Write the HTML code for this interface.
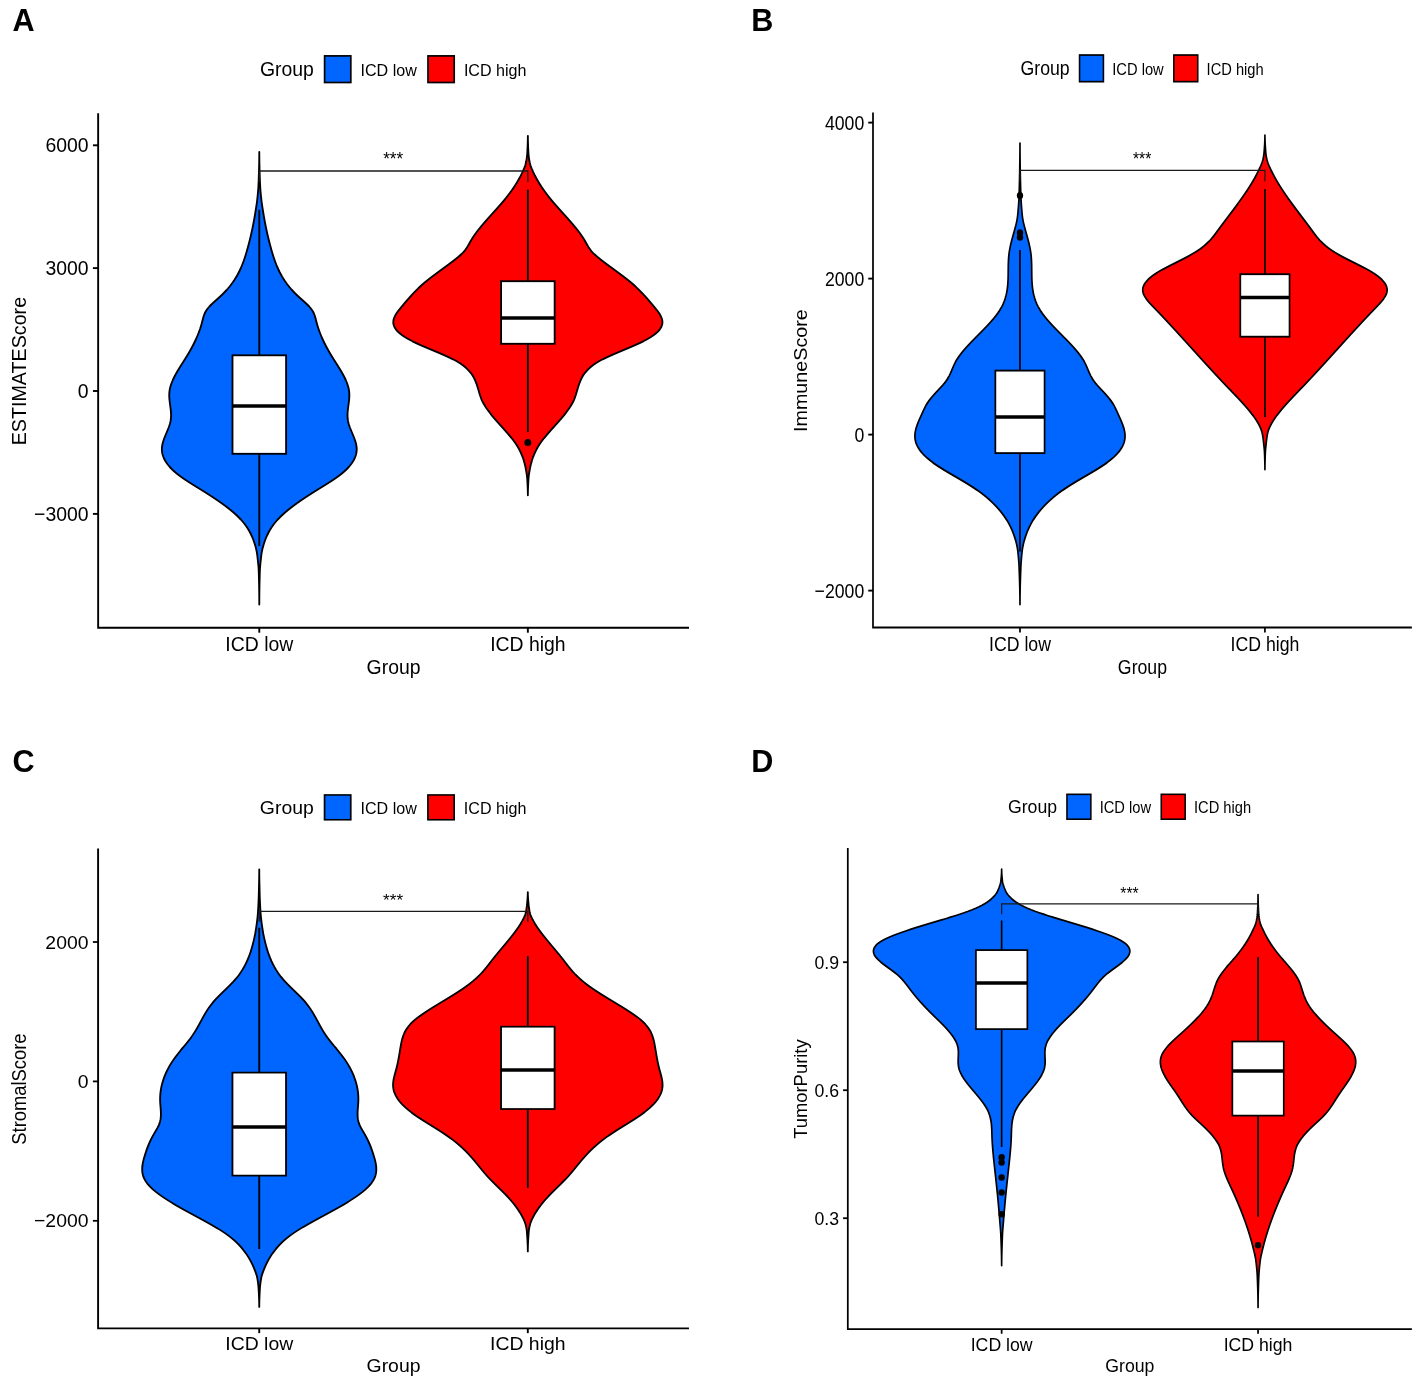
<!DOCTYPE html>
<html lang="en"><head><meta charset="utf-8"><title>ESTIMATE violin plots</title>
<style>html,body{margin:0;padding:0;background:#fff}svg{display:block}text{font-family:"Liberation Sans",Arial,Helvetica,sans-serif;fill:#000}</style></head><body>
<svg width="1417" height="1380" viewBox="0 0 1417 1380">
<rect width="1417" height="1380" fill="#fff"/>
<g transform="translate(0,0) scale(1.0,1.0)">
<text transform="translate(259.9,76) scale(1,1.06)" font-size="19.4">Group</text>
<rect x="324.6" y="55.9" width="26.2" height="26.6" fill="#0066FF" stroke="#000" stroke-width="1.7"/>
<text transform="translate(360.5,76) scale(1,1.06)" font-size="16.1">ICD low</text>
<rect x="428" y="55.9" width="26.2" height="26.6" fill="#FF0000" stroke="#000" stroke-width="1.7"/>
<text transform="translate(463.9,76) scale(1,1.06)" font-size="16.1">ICD high</text>
<path d="M259.29,152 L259.29,153.5 L259.28,155 L259.27,156.5 L259.26,158 L259.24,159.5 L259.21,161 L259.19,162.5 L259.16,164 L259.13,165.5 L259.09,167 L259.05,168.5 L259.01,170 L258.97,171.5 L258.92,173 L258.87,174.5 L258.82,176 L258.77,177.5 L258.71,179 L258.66,180.5 L258.6,182 L258.54,183.5 L258.48,185 L258.4,186.5 L258.31,188 L258.2,189.5 L258.08,191 L257.95,192.5 L257.81,194 L257.66,195.5 L257.51,197 L257.35,198.5 L257.18,200 L257.01,201.5 L256.82,203 L256.6,204.5 L256.38,206 L256.15,207.5 L255.91,209 L255.67,210.5 L255.43,212 L255.19,213.5 L254.94,215 L254.69,216.5 L254.43,218 L254.17,219.5 L253.89,221 L253.61,222.5 L253.32,224 L253.03,225.5 L252.73,227 L252.42,228.5 L252.1,230 L251.77,231.5 L251.44,233 L251.1,234.5 L250.75,236 L250.4,237.5 L250.03,239 L249.66,240.5 L249.28,242 L248.89,243.5 L248.5,245 L248.09,246.5 L247.68,248 L247.26,249.5 L246.84,251 L246.4,252.5 L245.95,254 L245.49,255.5 L245.01,257 L244.52,258.5 L244,260 L243.47,261.5 L242.91,263 L242.33,264.5 L241.72,266 L241.08,267.5 L240.41,269 L239.71,270.5 L238.97,272 L238.19,273.5 L237.38,275 L236.52,276.5 L235.62,278 L234.68,279.5 L233.68,281 L232.64,282.5 L231.55,284 L230.41,285.5 L229.21,287 L227.95,288.5 L226.63,290 L225.25,291.5 L223.81,293 L222.31,294.5 L220.73,296 L219.1,297.5 L217.42,299 L215.73,300.5 L214.06,302 L212.43,303.5 L210.88,305 L209.43,306.5 L208.11,308 L206.95,309.5 L205.97,311 L205.15,312.5 L204.47,314 L203.9,315.5 L203.41,317 L202.99,318.5 L202.6,320 L202.23,321.5 L201.84,323 L201.43,324.5 L200.99,326 L200.52,327.5 L200.03,329 L199.5,330.5 L198.95,332 L198.38,333.5 L197.78,335 L197.15,336.5 L196.5,338 L195.83,339.5 L195.13,341 L194.41,342.5 L193.67,344 L192.9,345.5 L192.11,347 L191.3,348.5 L190.47,350 L189.62,351.5 L188.75,353 L187.86,354.5 L186.95,356 L186.02,357.5 L185.08,359 L184.13,360.5 L183.18,362 L182.22,363.5 L181.27,365 L180.33,366.5 L179.4,368 L178.48,369.5 L177.58,371 L176.71,372.5 L175.87,374 L175.05,375.5 L174.28,377 L173.54,378.5 L172.85,380 L172.21,381.5 L171.61,383 L171.08,384.5 L170.6,386 L170.19,387.5 L169.85,389 L169.59,390.5 L169.4,392 L169.28,393.5 L169.24,395 L169.26,396.5 L169.34,398 L169.45,399.5 L169.61,401 L169.78,402.5 L169.98,404 L170.18,405.5 L170.39,407 L170.58,408.5 L170.75,410 L170.89,411.5 L171,413 L171.06,414.5 L171.06,416 L171,417.5 L170.87,419 L170.65,420.5 L170.35,422 L169.97,423.5 L169.52,425 L169.01,426.5 L168.46,428 L167.87,429.5 L167.26,431 L166.63,432.5 L166,434 L165.38,435.5 L164.77,437 L164.2,438.5 L163.66,440 L163.17,441.5 L162.75,443 L162.4,444.5 L162.13,446 L161.95,447.5 L161.88,449 L161.91,450.5 L162.07,452 L162.33,453.5 L162.71,455 L163.2,456.5 L163.81,458 L164.53,459.5 L165.36,461 L166.3,462.5 L167.36,464 L168.54,465.5 L169.82,467 L171.22,468.5 L172.73,470 L174.36,471.5 L176.1,473 L177.95,474.5 L179.92,476 L181.99,477.5 L184.15,479 L186.39,480.5 L188.69,482 L191.05,483.5 L193.44,485 L195.86,486.5 L198.29,488 L200.72,489.5 L203.13,491 L205.51,492.5 L207.88,494 L210.2,495.5 L212.5,497 L214.76,498.5 L216.98,500 L219.16,501.5 L221.29,503 L223.37,504.5 L225.4,506 L227.38,507.5 L229.29,509 L231.15,510.5 L232.93,512 L234.66,513.5 L236.31,515 L237.88,516.5 L239.38,518 L240.8,519.5 L242.14,521 L243.4,522.5 L244.59,524 L245.7,525.5 L246.75,527 L247.73,528.5 L248.64,530 L249.5,531.5 L250.3,533 L251.05,534.5 L251.75,536 L252.4,537.5 L253,539 L253.57,540.5 L254.09,542 L254.58,543.5 L255.06,545 L255.5,546.5 L255.9,548 L256.26,549.5 L256.58,551 L256.88,552.5 L257.09,554 L257.28,555.5 L257.46,557 L257.63,558.5 L257.79,560 L257.95,561.5 L258.11,563 L258.27,564.5 L258.41,566 L258.54,567.5 L258.64,569 L258.71,570.5 L258.76,572 L258.81,573.5 L258.85,575 L258.89,576.5 L258.93,578 L258.97,579.5 L259.01,581 L259.04,582.5 L259.07,584 L259.1,585.5 L259.13,587 L259.16,588.5 L259.18,590 L259.2,591.5 L259.22,593 L259.24,594.5 L259.25,596 L259.26,597.5 L259.27,599 L259.28,600.5 L259.29,602 L259.29,603.5 L259.29,604.5 L259.29,604.5 L259.29,603.5 L259.29,602 L259.3,600.5 L259.31,599 L259.32,597.5 L259.33,596 L259.34,594.5 L259.36,593 L259.38,591.5 L259.4,590 L259.43,588.5 L259.45,587 L259.48,585.5 L259.51,584 L259.54,582.5 L259.58,581 L259.61,579.5 L259.65,578 L259.69,576.5 L259.73,575 L259.77,573.5 L259.82,572 L259.87,570.5 L259.94,569 L260.05,567.5 L260.17,566 L260.32,564.5 L260.47,563 L260.63,561.5 L260.79,560 L260.95,558.5 L261.12,557 L261.3,555.5 L261.49,554 L261.71,552.5 L262,551 L262.32,549.5 L262.68,548 L263.08,546.5 L263.52,545 L264,543.5 L264.49,542 L265.01,540.5 L265.58,539 L266.18,537.5 L266.83,536 L267.53,534.5 L268.28,533 L269.08,531.5 L269.94,530 L270.85,528.5 L271.84,527 L272.88,525.5 L274,524 L275.18,522.5 L276.44,521 L277.78,519.5 L279.2,518 L280.7,516.5 L282.28,515 L283.93,513.5 L285.65,512 L287.44,510.5 L289.29,509 L291.21,507.5 L293.18,506 L295.21,504.5 L297.29,503 L299.42,501.5 L301.6,500 L303.82,498.5 L306.08,497 L308.38,495.5 L310.71,494 L313.07,492.5 L315.45,491 L317.87,489.5 L320.29,488 L322.72,486.5 L325.14,485 L327.53,483.5 L329.89,482 L332.19,480.5 L334.43,479 L336.59,477.5 L338.66,476 L340.63,474.5 L342.48,473 L344.22,471.5 L345.85,470 L347.36,468.5 L348.76,467 L350.05,465.5 L351.22,464 L352.28,462.5 L353.22,461 L354.05,459.5 L354.77,458 L355.38,456.5 L355.87,455 L356.25,453.5 L356.51,452 L356.67,450.5 L356.71,449 L356.63,447.5 L356.46,446 L356.18,444.5 L355.83,443 L355.41,441.5 L354.92,440 L354.38,438.5 L353.81,437 L353.2,435.5 L352.58,434 L351.95,432.5 L351.32,431 L350.71,429.5 L350.12,428 L349.57,426.5 L349.06,425 L348.61,423.5 L348.23,422 L347.93,420.5 L347.71,419 L347.58,417.5 L347.52,416 L347.52,414.5 L347.58,413 L347.69,411.5 L347.83,410 L348,408.5 L348.2,407 L348.4,405.5 L348.6,404 L348.8,402.5 L348.98,401 L349.13,399.5 L349.25,398 L349.32,396.5 L349.34,395 L349.3,393.5 L349.19,392 L349,390.5 L348.73,389 L348.39,387.5 L347.98,386 L347.5,384.5 L346.97,383 L346.38,381.5 L345.73,380 L345.04,378.5 L344.3,377 L343.53,375.5 L342.71,374 L341.87,372.5 L341,371 L340.1,369.5 L339.18,368 L338.25,366.5 L337.31,365 L336.36,363.5 L335.4,362 L334.45,360.5 L333.5,359 L332.56,357.5 L331.63,356 L330.72,354.5 L329.83,353 L328.96,351.5 L328.11,350 L327.28,348.5 L326.47,347 L325.68,345.5 L324.92,344 L324.17,342.5 L323.45,341 L322.75,339.5 L322.08,338 L321.43,336.5 L320.8,335 L320.2,333.5 L319.63,332 L319.08,330.5 L318.56,329 L318.06,327.5 L317.59,326 L317.15,324.5 L316.74,323 L316.35,321.5 L315.98,320 L315.59,318.5 L315.17,317 L314.69,315.5 L314.11,314 L313.43,312.5 L312.61,311 L311.63,309.5 L310.47,308 L309.16,306.5 L307.71,305 L306.15,303.5 L304.53,302 L302.85,300.5 L301.16,299 L299.49,297.5 L297.85,296 L296.28,294.5 L294.77,293 L293.33,291.5 L291.95,290 L290.63,288.5 L289.38,287 L288.18,285.5 L287.03,284 L285.94,282.5 L284.9,281 L283.91,279.5 L282.96,278 L282.06,276.5 L281.21,275 L280.39,273.5 L279.61,272 L278.88,270.5 L278.17,269 L277.5,267.5 L276.86,266 L276.25,264.5 L275.67,263 L275.11,261.5 L274.58,260 L274.06,258.5 L273.57,257 L273.09,255.5 L272.63,254 L272.18,252.5 L271.75,251 L271.32,249.5 L270.9,248 L270.49,246.5 L270.08,245 L269.69,243.5 L269.3,242 L268.92,240.5 L268.55,239 L268.19,237.5 L267.83,236 L267.48,234.5 L267.14,233 L266.81,231.5 L266.48,230 L266.17,228.5 L265.86,227 L265.55,225.5 L265.26,224 L264.97,222.5 L264.69,221 L264.42,219.5 L264.15,218 L263.89,216.5 L263.64,215 L263.4,213.5 L263.16,212 L262.91,210.5 L262.67,209 L262.43,207.5 L262.2,206 L261.98,204.5 L261.76,203 L261.57,201.5 L261.4,200 L261.24,198.5 L261.08,197 L260.92,195.5 L260.77,194 L260.63,192.5 L260.5,191 L260.38,189.5 L260.27,188 L260.18,186.5 L260.1,185 L260.04,183.5 L259.98,182 L259.93,180.5 L259.87,179 L259.82,177.5 L259.76,176 L259.71,174.5 L259.66,173 L259.62,171.5 L259.57,170 L259.53,168.5 L259.49,167 L259.46,165.5 L259.42,164 L259.39,162.5 L259.37,161 L259.34,159.5 L259.33,158 L259.31,156.5 L259.3,155 L259.29,153.5 L259.29,152Z" fill="#0066FF" stroke="#000" stroke-width="1.85" stroke-linejoin="round"/>
<path d="M259.29,209.8V355.3M259.29,453.8V546" stroke="#000" stroke-width="1.85" fill="none"/>
<rect x="232.49" y="355.3" width="53.6" height="98.5" fill="#fff" stroke="#000" stroke-width="1.85"/>
<path d="M232.49,406.1H286.09" stroke="#000" stroke-width="3.5" fill="none"/>
<path d="M527.86,135.8 L527.85,137.3 L527.84,138.8 L527.81,140.3 L527.78,141.8 L527.73,143.3 L527.68,144.8 L527.62,146.3 L527.56,147.8 L527.48,149.3 L527.41,150.8 L527.33,152.3 L527.23,153.8 L527.09,155.3 L526.92,156.8 L526.72,158.3 L526.47,159.8 L526.2,161.3 L525.89,162.8 L525.55,164.3 L525.08,165.8 L524.51,167.3 L523.89,168.8 L523.24,170.3 L522.59,171.8 L521.9,173.3 L521.18,174.8 L520.42,176.3 L519.63,177.8 L518.81,179.3 L517.96,180.8 L517.08,182.3 L516.16,183.8 L515.21,185.3 L514.23,186.8 L513.22,188.3 L512.18,189.8 L511.11,191.3 L510.01,192.8 L508.87,194.3 L507.71,195.8 L506.52,197.3 L505.3,198.8 L504.05,200.3 L502.78,201.8 L501.49,203.3 L500.19,204.8 L498.87,206.3 L497.53,207.8 L496.19,209.3 L494.84,210.8 L493.49,212.3 L492.14,213.8 L490.79,215.3 L489.45,216.8 L488.11,218.3 L486.78,219.8 L485.47,221.3 L484.17,222.8 L482.89,224.3 L481.64,225.8 L480.4,227.3 L479.2,228.8 L478.02,230.3 L476.87,231.8 L475.77,233.3 L474.69,234.8 L473.66,236.3 L472.68,237.8 L471.74,239.3 L470.85,240.8 L469.99,242.3 L469.15,243.8 L468.3,245.3 L467.4,246.8 L466.42,248.3 L465.34,249.8 L464.13,251.3 L462.76,252.8 L461.25,254.3 L459.62,255.8 L457.88,257.3 L456.05,258.8 L454.15,260.3 L452.2,261.8 L450.21,263.3 L448.2,264.8 L446.17,266.3 L444.12,267.8 L442.08,269.3 L440.03,270.8 L437.99,272.3 L435.96,273.8 L433.95,275.3 L431.97,276.8 L430.02,278.3 L428.11,279.8 L426.24,281.3 L424.42,282.8 L422.67,284.3 L420.97,285.8 L419.33,287.3 L417.75,288.8 L416.22,290.3 L414.73,291.8 L413.29,293.3 L411.89,294.8 L410.51,296.3 L409.17,297.8 L407.86,299.3 L406.56,300.8 L405.29,302.3 L404.03,303.8 L402.77,305.3 L401.53,306.8 L400.3,308.3 L399.1,309.8 L397.96,311.3 L396.9,312.8 L395.93,314.3 L395.09,315.8 L394.38,317.3 L393.83,318.8 L393.46,320.3 L393.29,321.8 L393.34,323.3 L393.62,324.8 L394.13,326.3 L394.88,327.8 L395.87,329.3 L397.09,330.8 L398.55,332.3 L400.26,333.8 L402.21,335.3 L404.41,336.8 L406.86,338.3 L409.56,339.8 L412.48,341.3 L415.6,342.8 L418.88,344.3 L422.28,345.8 L425.78,347.3 L429.34,348.8 L432.92,350.3 L436.49,351.8 L440.02,353.3 L443.47,354.8 L446.81,356.3 L450,357.8 L453.01,359.3 L455.81,360.8 L458.37,362.3 L460.7,363.8 L462.82,365.3 L464.73,366.8 L466.46,368.3 L468.01,369.8 L469.4,371.3 L470.65,372.8 L471.75,374.3 L472.74,375.8 L473.62,377.3 L474.4,378.8 L475.1,380.3 L475.74,381.8 L476.31,383.3 L476.83,384.8 L477.32,386.3 L477.77,387.8 L478.22,389.3 L478.65,390.8 L479.09,392.3 L479.54,393.8 L480.01,395.3 L480.52,396.8 L481.08,398.3 L481.69,399.8 L482.37,401.3 L483.13,402.8 L483.95,404.3 L484.85,405.8 L485.8,407.3 L486.82,408.8 L487.89,410.3 L489.01,411.8 L490.17,413.3 L491.37,414.8 L492.61,416.3 L493.87,417.8 L495.17,419.3 L496.48,420.8 L497.81,422.3 L499.15,423.8 L500.49,425.3 L501.84,426.8 L503.19,428.3 L504.53,429.8 L505.85,431.3 L507.16,432.8 L508.45,434.3 L509.71,435.8 L510.94,437.3 L512.13,438.8 L513.29,440.3 L514.4,441.8 L515.46,443.3 L516.46,444.8 L517.41,446.3 L518.29,447.8 L519.13,449.3 L519.9,450.8 L520.63,452.3 L521.31,453.8 L521.93,455.3 L522.52,456.8 L523.06,458.3 L523.56,459.8 L524,461.3 L524.4,462.8 L524.8,464.3 L525.17,465.8 L525.52,467.3 L525.79,468.8 L526.07,470.3 L526.33,471.8 L526.58,473.3 L526.81,474.8 L527.01,476.3 L527.14,477.8 L527.24,479.3 L527.34,480.8 L527.43,482.3 L527.51,483.8 L527.59,485.3 L527.66,486.8 L527.72,488.3 L527.77,489.8 L527.81,491.3 L527.84,492.8 L527.86,494.3 L527.86,495.3 L527.86,495.3 L527.86,494.3 L527.88,492.8 L527.91,491.3 L527.95,489.8 L528,488.3 L528.06,486.8 L528.13,485.3 L528.21,483.8 L528.29,482.3 L528.38,480.8 L528.48,479.3 L528.58,477.8 L528.71,476.3 L528.9,474.8 L529.13,473.3 L529.39,471.8 L529.65,470.3 L529.93,468.8 L530.2,467.3 L530.54,465.8 L530.92,464.3 L531.32,462.8 L531.72,461.3 L532.16,459.8 L532.66,458.3 L533.2,456.8 L533.78,455.3 L534.41,453.8 L535.09,452.3 L535.81,450.8 L536.59,449.3 L537.42,447.8 L538.31,446.3 L539.26,444.8 L540.26,443.3 L541.32,441.8 L542.43,440.3 L543.58,438.8 L544.78,437.3 L546.01,435.8 L547.27,434.3 L548.56,432.8 L549.87,431.3 L551.19,429.8 L552.53,428.3 L553.88,426.8 L555.22,425.3 L556.57,423.8 L557.91,422.3 L559.24,420.8 L560.55,419.3 L561.84,417.8 L563.11,416.3 L564.35,414.8 L565.55,413.3 L566.71,411.8 L567.83,410.3 L568.9,408.8 L569.91,407.3 L570.87,405.8 L571.76,404.3 L572.59,402.8 L573.35,401.3 L574.02,399.8 L574.64,398.3 L575.19,396.8 L575.71,395.3 L576.18,393.8 L576.63,392.3 L577.07,390.8 L577.5,389.3 L577.94,387.8 L578.4,386.3 L578.89,384.8 L579.41,383.3 L579.98,381.8 L580.61,380.3 L581.32,378.8 L582.1,377.3 L582.98,375.8 L583.96,374.3 L585.07,372.8 L586.31,371.3 L587.7,369.8 L589.26,368.3 L590.98,366.8 L592.9,365.3 L595.02,363.8 L597.35,362.3 L599.91,360.8 L602.71,359.3 L605.72,357.8 L608.91,356.3 L612.25,354.8 L615.7,353.3 L619.23,351.8 L622.8,350.3 L626.38,348.8 L629.94,347.3 L633.43,345.8 L636.84,344.3 L640.12,342.8 L643.24,341.3 L646.16,339.8 L648.86,338.3 L651.31,336.8 L653.5,335.3 L655.46,333.8 L657.16,332.3 L658.63,330.8 L659.85,329.3 L660.84,327.8 L661.59,326.3 L662.1,324.8 L662.38,323.3 L662.43,321.8 L662.26,320.3 L661.89,318.8 L661.34,317.3 L660.63,315.8 L659.78,314.3 L658.82,312.8 L657.76,311.3 L656.62,309.8 L655.42,308.3 L654.19,306.8 L652.94,305.3 L651.69,303.8 L650.43,302.3 L649.15,300.8 L647.86,299.3 L646.54,297.8 L645.2,296.3 L643.83,294.8 L642.43,293.3 L640.98,291.8 L639.5,290.3 L637.97,288.8 L636.38,287.3 L634.75,285.8 L633.05,284.3 L631.29,282.8 L629.48,281.3 L627.61,279.8 L625.7,278.3 L623.75,276.8 L621.77,275.3 L619.76,273.8 L617.73,272.3 L615.69,270.8 L613.64,269.3 L611.59,267.8 L609.55,266.3 L607.52,264.8 L605.51,263.3 L603.52,261.8 L601.57,260.3 L599.67,258.8 L597.84,257.3 L596.1,255.8 L594.46,254.3 L592.96,252.8 L591.59,251.3 L590.38,249.8 L589.3,248.3 L588.32,246.8 L587.42,245.3 L586.56,243.8 L585.72,242.3 L584.87,240.8 L583.98,239.3 L583.04,237.8 L582.05,236.3 L581.02,234.8 L579.95,233.3 L578.84,231.8 L577.7,230.3 L576.52,228.8 L575.32,227.3 L574.08,225.8 L572.83,224.3 L571.55,222.8 L570.25,221.3 L568.93,219.8 L567.61,218.3 L566.27,216.8 L564.93,215.3 L563.58,213.8 L562.22,212.3 L560.87,210.8 L559.53,209.3 L558.18,207.8 L556.85,206.3 L555.53,204.8 L554.23,203.3 L552.94,201.8 L551.67,200.3 L550.42,198.8 L549.2,197.3 L548.01,195.8 L546.84,194.3 L545.71,192.8 L544.61,191.3 L543.54,189.8 L542.5,188.3 L541.48,186.8 L540.51,185.3 L539.56,183.8 L538.64,182.3 L537.76,180.8 L536.9,179.3 L536.08,177.8 L535.3,176.3 L534.54,174.8 L533.82,173.3 L533.13,171.8 L532.48,170.3 L531.82,168.8 L531.21,167.3 L530.64,165.8 L530.16,164.3 L529.82,162.8 L529.52,161.3 L529.24,159.8 L529,158.3 L528.8,156.8 L528.63,155.3 L528.49,153.8 L528.39,152.3 L528.31,150.8 L528.23,149.3 L528.16,147.8 L528.1,146.3 L528.04,144.8 L527.99,143.3 L527.94,141.8 L527.91,140.3 L527.88,138.8 L527.86,137.3 L527.86,135.8Z" fill="#FF0000" stroke="#000" stroke-width="1.85" stroke-linejoin="round"/>
<path d="M527.86,189.6V281.2M527.86,343.8V431.9" stroke="#000" stroke-width="1.85" fill="none"/>
<rect x="501.06" y="281.2" width="53.6" height="62.6" fill="#fff" stroke="#000" stroke-width="1.85"/>
<path d="M501.06,318H554.66" stroke="#000" stroke-width="3.5" fill="none"/>
<circle cx="527.86" cy="442.4" r="3.5"/>
<path d="M259.29,182V171H527.86V182" stroke="#1a1a1a" stroke-width="1.3" fill="none"/>
<text transform="translate(393.18,165.4) scale(1,1.06)" font-size="17.2" text-anchor="middle">***</text>
<path d="M98.15,113.3V627.7H689" stroke="#000" stroke-width="1.9" fill="none" stroke-linejoin="miter"/>
<path d="M92.95,145.3H98.15" stroke="#000" stroke-width="1.9"/>
<text transform="translate(88.55,152.3) scale(1,1.06)" font-size="19.4" text-anchor="end">6000</text>
<path d="M92.95,268.1H98.15" stroke="#000" stroke-width="1.9"/>
<text transform="translate(88.55,275.1) scale(1,1.06)" font-size="19.4" text-anchor="end">3000</text>
<path d="M92.95,391H98.15" stroke="#000" stroke-width="1.9"/>
<text transform="translate(88.55,398) scale(1,1.06)" font-size="19.4" text-anchor="end">0</text>
<path d="M92.95,513.9H98.15" stroke="#000" stroke-width="1.9"/>
<text transform="translate(88.55,520.9) scale(1,1.06)" font-size="19.4" text-anchor="end">−3000</text>
<path d="M259.29,627.7V632.7" stroke="#000" stroke-width="1.9"/>
<text transform="translate(259.29,650.8) scale(1,1.06)" font-size="19.4" text-anchor="middle">ICD low</text>
<path d="M527.86,627.7V632.7" stroke="#000" stroke-width="1.9"/>
<text transform="translate(527.86,650.8) scale(1,1.06)" font-size="19.4" text-anchor="middle">ICD high</text>
<text transform="translate(393.57,674) scale(1,1.06)" font-size="19.4" text-anchor="middle">Group</text>
<text transform="translate(26.3,371.1) rotate(-90) scale(1,1.06)" font-size="19.7" text-anchor="middle">ESTIMATEScore</text>
</g>
<text x="12.5" y="30.8" font-size="30.6" font-weight="bold">A</text>
<g transform="translate(783.48,-0.93) scale(0.91207,1.00117)">
<text transform="translate(259.9,76) scale(1,1.06)" font-size="19.4">Group</text>
<rect x="324.6" y="55.9" width="26.2" height="26.6" fill="#0066FF" stroke="#000" stroke-width="1.7"/>
<text transform="translate(360.5,76) scale(1,1.06)" font-size="16.1">ICD low</text>
<rect x="428" y="55.9" width="26.2" height="26.6" fill="#FF0000" stroke="#000" stroke-width="1.7"/>
<text transform="translate(463.9,76) scale(1,1.06)" font-size="16.1">ICD high</text>
<path d="M259.29,143.86 L259.29,145.36 L259.29,146.86 L259.28,148.36 L259.28,149.85 L259.27,151.35 L259.26,152.85 L259.25,154.35 L259.23,155.85 L259.22,157.35 L259.2,158.84 L259.19,160.34 L259.17,161.84 L259.15,163.34 L259.12,164.84 L259.1,166.34 L259.07,167.83 L259.05,169.33 L259.02,170.83 L258.99,172.33 L258.96,173.83 L258.92,175.32 L258.89,176.82 L258.85,178.32 L258.82,179.82 L258.78,181.32 L258.74,182.82 L258.7,184.31 L258.66,185.81 L258.61,187.31 L258.57,188.81 L258.52,190.31 L258.47,191.81 L258.43,193.3 L258.37,194.8 L258.32,196.3 L258.26,197.8 L258.19,199.3 L258.1,200.8 L258,202.29 L257.89,203.79 L257.77,205.29 L257.65,206.79 L257.53,208.29 L257.39,209.78 L257.26,211.28 L257.12,212.78 L256.96,214.28 L256.8,215.78 L256.61,217.28 L256.37,218.77 L256.1,220.27 L255.79,221.77 L255.45,223.27 L255.08,224.77 L254.69,226.27 L254.26,227.76 L253.82,229.26 L253.37,230.76 L252.91,232.26 L252.45,233.76 L251.99,235.25 L251.53,236.75 L251.08,238.25 L250.64,239.75 L250.2,241.25 L249.78,242.75 L249.38,244.24 L248.99,245.74 L248.63,247.24 L248.29,248.74 L247.98,250.24 L247.7,251.74 L247.45,253.23 L247.24,254.73 L247.06,256.23 L246.91,257.73 L246.79,259.23 L246.69,260.72 L246.61,262.22 L246.55,263.72 L246.5,265.22 L246.47,266.72 L246.45,268.22 L246.43,269.71 L246.41,271.21 L246.4,272.71 L246.38,274.21 L246.36,275.71 L246.33,277.21 L246.28,278.7 L246.23,280.2 L246.15,281.7 L246.06,283.2 L245.94,284.7 L245.79,286.2 L245.62,287.69 L245.42,289.19 L245.18,290.69 L244.9,292.19 L244.58,293.69 L244.21,295.18 L243.8,296.68 L243.34,298.18 L242.83,299.68 L242.26,301.18 L241.64,302.68 L240.95,304.17 L240.2,305.67 L239.38,307.17 L238.49,308.67 L237.52,310.17 L236.49,311.67 L235.38,313.16 L234.2,314.66 L232.97,316.16 L231.67,317.66 L230.33,319.16 L228.93,320.65 L227.49,322.15 L226.02,323.65 L224.5,325.15 L222.96,326.65 L221.39,328.15 L219.8,329.64 L218.2,331.14 L216.58,332.64 L214.95,334.14 L213.32,335.64 L211.69,337.14 L210.07,338.63 L208.46,340.13 L206.86,341.63 L205.28,343.13 L203.72,344.63 L202.19,346.13 L200.7,347.62 L199.24,349.12 L197.82,350.62 L196.45,352.12 L195.13,353.62 L193.87,355.11 L192.66,356.61 L191.52,358.11 L190.45,359.61 L189.45,361.11 L188.53,362.61 L187.68,364.1 L186.9,365.6 L186.17,367.1 L185.46,368.6 L184.77,370.1 L184.08,371.6 L183.36,373.09 L182.62,374.59 L181.82,376.09 L180.95,377.59 L180,379.09 L178.95,380.58 L177.78,382.08 L176.5,383.58 L175.12,385.08 L173.67,386.58 L172.16,388.08 L170.62,389.57 L169.07,391.07 L167.52,392.57 L166.01,394.07 L164.53,395.57 L163.11,397.07 L161.74,398.56 L160.44,400.06 L159.22,401.56 L158.09,403.06 L157.06,404.56 L156.11,406.05 L155.23,407.55 L154.41,409.05 L153.63,410.55 L152.88,412.05 L152.14,413.55 L151.4,415.04 L150.65,416.54 L149.91,418.04 L149.18,419.54 L148.46,421.04 L147.77,422.54 L147.12,424.03 L146.51,425.53 L145.95,427.03 L145.45,428.53 L145.01,430.03 L144.65,431.53 L144.37,433.02 L144.18,434.52 L144.09,436.02 L144.11,437.52 L144.24,439.02 L144.49,440.51 L144.87,442.01 L145.38,443.51 L146.02,445.01 L146.79,446.51 L147.69,448.01 L148.72,449.5 L149.87,451 L151.16,452.5 L152.58,454 L154.12,455.5 L155.8,457 L157.6,458.49 L159.54,459.99 L161.6,461.49 L163.79,462.99 L166.11,464.49 L168.54,465.98 L171.06,467.48 L173.67,468.98 L176.34,470.48 L179.08,471.98 L181.85,473.48 L184.66,474.97 L187.48,476.47 L190.31,477.97 L193.13,479.47 L195.92,480.97 L198.68,482.47 L201.39,483.96 L204.03,485.46 L206.6,486.96 L209.08,488.46 L211.49,489.96 L213.81,491.45 L216.05,492.95 L218.21,494.45 L220.3,495.95 L222.31,497.45 L224.25,498.95 L226.12,500.44 L227.92,501.94 L229.64,503.44 L231.3,504.94 L232.89,506.44 L234.42,507.94 L235.89,509.43 L237.29,510.93 L238.63,512.43 L239.91,513.93 L241.14,515.43 L242.31,516.93 L243.42,518.42 L244.48,519.92 L245.49,521.42 L246.45,522.92 L247.36,524.42 L248.23,525.91 L249.04,527.41 L249.82,528.91 L250.55,530.41 L251.23,531.91 L251.88,533.41 L252.49,534.9 L253.06,536.4 L253.6,537.9 L254.1,539.4 L254.58,540.9 L255.02,542.4 L255.42,543.89 L255.79,545.39 L256.12,546.89 L256.43,548.39 L256.7,549.89 L256.91,551.38 L257.09,552.88 L257.26,554.38 L257.42,555.88 L257.58,557.38 L257.72,558.88 L257.86,560.37 L257.98,561.87 L258.1,563.37 L258.2,564.87 L258.29,566.37 L258.36,567.87 L258.42,569.36 L258.48,570.86 L258.54,572.36 L258.6,573.86 L258.66,575.36 L258.72,576.86 L258.77,578.35 L258.82,579.85 L258.87,581.35 L258.92,582.85 L258.97,584.35 L259.01,585.84 L259.05,587.34 L259.09,588.84 L259.12,590.34 L259.15,591.84 L259.18,593.34 L259.21,594.83 L259.23,596.33 L259.25,597.83 L259.27,599.33 L259.28,600.83 L259.29,602.33 L259.29,603.82 L259.29,604.72 L259.29,604.72 L259.29,603.82 L259.3,602.33 L259.3,600.83 L259.32,599.33 L259.33,597.83 L259.35,596.33 L259.37,594.83 L259.4,593.34 L259.43,591.84 L259.46,590.34 L259.49,588.84 L259.53,587.34 L259.57,585.84 L259.61,584.35 L259.66,582.85 L259.71,581.35 L259.76,579.85 L259.81,578.35 L259.86,576.86 L259.92,575.36 L259.98,573.86 L260.04,572.36 L260.1,570.86 L260.16,569.36 L260.23,567.87 L260.29,566.37 L260.38,564.87 L260.48,563.37 L260.6,561.87 L260.72,560.37 L260.86,558.88 L261.01,557.38 L261.16,555.88 L261.32,554.38 L261.49,552.88 L261.68,551.38 L261.88,549.89 L262.15,548.39 L262.46,546.89 L262.79,545.39 L263.16,543.89 L263.56,542.4 L264,540.9 L264.48,539.4 L264.98,537.9 L265.52,536.4 L266.09,534.9 L266.7,533.41 L267.35,531.91 L268.04,530.41 L268.77,528.91 L269.54,527.41 L270.36,525.91 L271.22,524.42 L272.13,522.92 L273.09,521.42 L274.1,519.92 L275.16,518.42 L276.27,516.93 L277.44,515.43 L278.67,513.93 L279.95,512.43 L281.29,510.93 L282.7,509.43 L284.16,507.94 L285.69,506.44 L287.28,504.94 L288.94,503.44 L290.67,501.94 L292.46,500.44 L294.33,498.95 L296.27,497.45 L298.28,495.95 L300.37,494.45 L302.53,492.95 L304.77,491.45 L307.1,489.96 L309.5,488.46 L311.98,486.96 L314.55,485.46 L317.2,483.96 L319.9,482.47 L322.66,480.97 L325.46,479.47 L328.27,477.97 L331.1,476.47 L333.92,474.97 L336.73,473.48 L339.51,471.98 L342.24,470.48 L344.92,468.98 L347.52,467.48 L350.04,465.98 L352.47,464.49 L354.79,462.99 L356.98,461.49 L359.04,459.99 L360.98,458.49 L362.78,457 L364.46,455.5 L366,454 L367.42,452.5 L368.71,451 L369.87,449.5 L370.89,448.01 L371.79,446.51 L372.56,445.01 L373.2,443.51 L373.71,442.01 L374.09,440.51 L374.34,439.02 L374.47,437.52 L374.49,436.02 L374.4,434.52 L374.21,433.02 L373.93,431.53 L373.57,430.03 L373.13,428.53 L372.63,427.03 L372.07,425.53 L371.46,424.03 L370.81,422.54 L370.12,421.04 L369.41,419.54 L368.67,418.04 L367.93,416.54 L367.18,415.04 L366.44,413.55 L365.7,412.05 L364.95,410.55 L364.17,409.05 L363.35,407.55 L362.48,406.05 L361.53,404.56 L360.49,403.06 L359.36,401.56 L358.14,400.06 L356.84,398.56 L355.48,397.07 L354.05,395.57 L352.57,394.07 L351.06,392.57 L349.52,391.07 L347.96,389.57 L346.42,388.08 L344.91,386.58 L343.46,385.08 L342.08,383.58 L340.8,382.08 L339.63,380.58 L338.58,379.09 L337.63,377.59 L336.76,376.09 L335.97,374.59 L335.22,373.09 L334.51,371.6 L333.81,370.1 L333.12,368.6 L332.42,367.1 L331.68,365.6 L330.9,364.1 L330.05,362.61 L329.13,361.11 L328.13,359.61 L327.06,358.11 L325.92,356.61 L324.71,355.11 L323.45,353.62 L322.13,352.12 L320.76,350.62 L319.34,349.12 L317.88,347.62 L316.39,346.13 L314.86,344.63 L313.3,343.13 L311.72,341.63 L310.13,340.13 L308.51,338.63 L306.89,337.14 L305.26,335.64 L303.63,334.14 L302,332.64 L300.39,331.14 L298.78,329.64 L297.19,328.15 L295.62,326.65 L294.08,325.15 L292.57,323.65 L291.09,322.15 L289.65,320.65 L288.25,319.16 L286.91,317.66 L285.62,316.16 L284.38,314.66 L283.2,313.16 L282.1,311.67 L281.06,310.17 L280.09,308.67 L279.2,307.17 L278.38,305.67 L277.63,304.17 L276.94,302.68 L276.32,301.18 L275.75,299.68 L275.24,298.18 L274.78,296.68 L274.37,295.18 L274,293.69 L273.69,292.19 L273.41,290.69 L273.17,289.19 L272.96,287.69 L272.79,286.2 L272.64,284.7 L272.52,283.2 L272.43,281.7 L272.35,280.2 L272.3,278.7 L272.25,277.21 L272.22,275.71 L272.2,274.21 L272.18,272.71 L272.17,271.21 L272.15,269.71 L272.14,268.22 L272.11,266.72 L272.08,265.22 L272.03,263.72 L271.97,262.22 L271.89,260.72 L271.79,259.23 L271.67,257.73 L271.52,256.23 L271.34,254.73 L271.13,253.23 L270.88,251.74 L270.6,250.24 L270.29,248.74 L269.95,247.24 L269.59,245.74 L269.21,244.24 L268.8,242.75 L268.38,241.25 L267.95,239.75 L267.5,238.25 L267.05,236.75 L266.59,235.25 L266.13,233.76 L265.67,232.26 L265.22,230.76 L264.77,229.26 L264.32,227.76 L263.9,226.27 L263.5,224.77 L263.13,223.27 L262.79,221.77 L262.49,220.27 L262.21,218.77 L261.97,217.28 L261.78,215.78 L261.62,214.28 L261.47,212.78 L261.32,211.28 L261.19,209.78 L261.06,208.29 L260.93,206.79 L260.81,205.29 L260.69,203.79 L260.59,202.29 L260.48,200.8 L260.4,199.3 L260.32,197.8 L260.26,196.3 L260.21,194.8 L260.16,193.3 L260.11,191.81 L260.06,190.31 L260.01,188.81 L259.97,187.31 L259.93,185.81 L259.88,184.31 L259.84,182.82 L259.8,181.32 L259.77,179.82 L259.73,178.32 L259.69,176.82 L259.66,175.32 L259.63,173.83 L259.59,172.33 L259.56,170.83 L259.54,169.33 L259.51,167.83 L259.48,166.34 L259.46,164.84 L259.44,163.34 L259.42,161.84 L259.4,160.34 L259.38,158.84 L259.36,157.35 L259.35,155.85 L259.33,154.35 L259.32,152.85 L259.31,151.35 L259.31,149.85 L259.3,148.36 L259.29,146.86 L259.29,145.36 L259.29,143.86Z" fill="#0066FF" stroke="#000" stroke-width="1.85" stroke-linejoin="round"/>
<path d="M259.29,250.54V371.1M259.29,453.5V551.88" stroke="#000" stroke-width="1.85" fill="none"/>
<rect x="232.32" y="371.1" width="53.94" height="82.4" fill="#fff" stroke="#000" stroke-width="1.85"/>
<path d="M232.32,417.44H286.26" stroke="#000" stroke-width="3.5" fill="none"/>
<circle cx="259.29" cy="196.3" r="3.5"/>
<circle cx="259.29" cy="233.46" r="3.5"/>
<circle cx="259.29" cy="237.85" r="3.5"/>
<path d="M527.86,136.07 L527.85,137.57 L527.82,139.07 L527.78,140.57 L527.72,142.06 L527.65,143.56 L527.56,145.06 L527.46,146.56 L527.36,148.06 L527.24,149.56 L527.12,151.05 L526.98,152.55 L526.85,154.05 L526.66,155.55 L526.4,157.05 L526.09,158.54 L525.73,160.04 L525.32,161.54 L524.79,163.04 L524.18,164.54 L523.52,166.04 L522.78,167.53 L522.01,169.03 L521.27,170.53 L520.5,172.03 L519.69,173.53 L518.86,175.03 L517.99,176.52 L517.1,178.02 L516.19,179.52 L515.25,181.02 L514.28,182.52 L513.3,184.01 L512.29,185.51 L511.26,187.01 L510.21,188.51 L509.14,190.01 L508.05,191.51 L506.94,193 L505.82,194.5 L504.69,196 L503.54,197.5 L502.37,199 L501.2,200.5 L500.01,201.99 L498.82,203.49 L497.61,204.99 L496.4,206.49 L495.18,207.99 L493.95,209.48 L492.72,210.98 L491.48,212.48 L490.24,213.98 L489,215.48 L487.76,216.98 L486.52,218.47 L485.28,219.97 L484.04,221.47 L482.8,222.97 L481.57,224.47 L480.34,225.97 L479.12,227.46 L477.91,228.96 L476.7,230.46 L475.5,231.96 L474.28,233.46 L473.05,234.96 L471.78,236.45 L470.45,237.95 L469.07,239.45 L467.6,240.95 L466.04,242.45 L464.37,243.94 L462.58,245.44 L460.66,246.94 L458.59,248.44 L456.35,249.94 L453.94,251.44 L451.34,252.93 L448.56,254.43 L445.63,255.93 L442.58,257.43 L439.43,258.93 L436.21,260.43 L432.95,261.92 L429.68,263.42 L426.41,264.92 L423.18,266.42 L420.02,267.92 L416.95,269.41 L414,270.91 L411.2,272.41 L408.57,273.91 L406.13,275.41 L403.9,276.91 L401.88,278.4 L400.07,279.9 L398.48,281.4 L397.11,282.9 L395.97,284.4 L395.08,285.9 L394.42,287.39 L394.01,288.89 L393.85,290.39 L393.95,291.89 L394.3,293.39 L394.88,294.88 L395.66,296.38 L396.62,297.88 L397.74,299.38 L399,300.88 L400.37,302.38 L401.82,303.87 L403.35,305.37 L404.92,306.87 L406.5,308.37 L408.09,309.87 L409.67,311.37 L411.24,312.86 L412.81,314.36 L414.37,315.86 L415.92,317.36 L417.47,318.86 L419.01,320.36 L420.55,321.85 L422.08,323.35 L423.61,324.85 L425.13,326.35 L426.65,327.85 L428.17,329.34 L429.68,330.84 L431.19,332.34 L432.69,333.84 L434.19,335.34 L435.69,336.84 L437.19,338.33 L438.68,339.83 L440.18,341.33 L441.67,342.83 L443.16,344.33 L444.65,345.83 L446.14,347.32 L447.63,348.82 L449.11,350.32 L450.6,351.82 L452.09,353.32 L453.58,354.81 L455.07,356.31 L456.56,357.81 L458.05,359.31 L459.55,360.81 L461.04,362.31 L462.54,363.8 L464.04,365.3 L465.55,366.8 L467.05,368.3 L468.56,369.8 L470.08,371.3 L471.59,372.79 L473.12,374.29 L474.64,375.79 L476.17,377.29 L477.71,378.79 L479.25,380.29 L480.79,381.78 L482.35,383.28 L483.9,384.78 L485.47,386.28 L487.04,387.78 L488.61,389.27 L490.2,390.77 L491.78,392.27 L493.36,393.77 L494.94,395.27 L496.51,396.77 L498.07,398.26 L499.62,399.76 L501.15,401.26 L502.66,402.76 L504.16,404.26 L505.63,405.76 L507.07,407.25 L508.49,408.75 L509.87,410.25 L511.21,411.75 L512.52,413.25 L513.79,414.74 L515.02,416.24 L516.19,417.74 L517.32,419.24 L518.4,420.74 L519.42,422.24 L520.39,423.73 L521.29,425.23 L522.13,426.73 L522.91,428.23 L523.61,429.73 L524.17,431.23 L524.63,432.72 L525.03,434.22 L525.35,435.72 L525.6,437.22 L525.83,438.72 L526.04,440.21 L526.24,441.71 L526.41,443.21 L526.59,444.71 L526.77,446.21 L526.95,447.71 L527.11,449.2 L527.25,450.7 L527.36,452.2 L527.43,453.7 L527.5,455.2 L527.56,456.7 L527.62,458.19 L527.67,459.69 L527.72,461.19 L527.76,462.69 L527.8,464.19 L527.82,465.69 L527.84,467.18 L527.86,468.68 L527.86,469.88 L527.86,469.88 L527.86,468.68 L527.87,467.18 L527.89,465.69 L527.92,464.19 L527.96,462.69 L528,461.19 L528.05,459.69 L528.1,458.19 L528.16,456.7 L528.22,455.2 L528.28,453.7 L528.36,452.2 L528.47,450.7 L528.61,449.2 L528.77,447.71 L528.95,446.21 L529.13,444.71 L529.3,443.21 L529.48,441.71 L529.68,440.21 L529.89,438.72 L530.12,437.22 L530.37,435.72 L530.69,434.22 L531.09,432.72 L531.55,431.23 L532.1,429.73 L532.81,428.23 L533.59,426.73 L534.43,425.23 L535.33,423.73 L536.3,422.24 L537.32,420.74 L538.4,419.24 L539.52,417.74 L540.7,416.24 L541.93,414.74 L543.2,413.25 L544.5,411.75 L545.85,410.25 L547.23,408.75 L548.65,407.25 L550.09,405.76 L551.56,404.26 L553.05,402.76 L554.57,401.26 L556.1,399.76 L557.65,398.26 L559.21,396.77 L560.78,395.27 L562.36,393.77 L563.94,392.27 L565.52,390.77 L567.1,389.27 L568.68,387.78 L570.25,386.28 L571.82,384.78 L573.37,383.28 L574.92,381.78 L576.47,380.29 L578.01,378.79 L579.55,377.29 L581.08,375.79 L582.6,374.29 L584.12,372.79 L585.64,371.3 L587.16,369.8 L588.67,368.3 L590.17,366.8 L591.68,365.3 L593.18,363.8 L594.68,362.31 L596.17,360.81 L597.67,359.31 L599.16,357.81 L600.65,356.31 L602.14,354.81 L603.63,353.32 L605.12,351.82 L606.61,350.32 L608.09,348.82 L609.58,347.32 L611.07,345.83 L612.56,344.33 L614.05,342.83 L615.54,341.33 L617.03,339.83 L618.53,338.33 L620.03,336.84 L621.53,335.34 L623.03,333.84 L624.53,332.34 L626.04,330.84 L627.55,329.34 L629.07,327.85 L630.59,326.35 L632.11,324.85 L633.64,323.35 L635.17,321.85 L636.71,320.36 L638.25,318.86 L639.8,317.36 L641.35,315.86 L642.91,314.36 L644.48,312.86 L646.05,311.37 L647.63,309.87 L649.21,308.37 L650.8,306.87 L652.37,305.37 L653.89,303.87 L655.35,302.38 L656.72,300.88 L657.98,299.38 L659.1,297.88 L660.06,296.38 L660.84,294.88 L661.42,293.39 L661.77,291.89 L661.87,290.39 L661.71,288.89 L661.3,287.39 L660.64,285.9 L659.74,284.4 L658.61,282.9 L657.24,281.4 L655.65,279.9 L653.84,278.4 L651.82,276.91 L649.59,275.41 L647.15,273.91 L644.52,272.41 L641.72,270.91 L638.77,269.41 L635.7,267.92 L632.54,266.42 L629.31,264.92 L626.04,263.42 L622.77,261.92 L619.51,260.43 L616.29,258.93 L613.14,257.43 L610.09,255.93 L607.16,254.43 L604.38,252.93 L601.78,251.44 L599.37,249.94 L597.13,248.44 L595.06,246.94 L593.14,245.44 L591.35,243.94 L589.68,242.45 L588.12,240.95 L586.65,239.45 L585.26,237.95 L583.94,236.45 L582.67,234.96 L581.43,233.46 L580.22,231.96 L579.02,230.46 L577.81,228.96 L576.6,227.46 L575.38,225.97 L574.15,224.47 L572.92,222.97 L571.68,221.47 L570.44,219.97 L569.2,218.47 L567.96,216.98 L566.71,215.48 L565.47,213.98 L564.23,212.48 L563,210.98 L561.77,209.48 L560.54,207.99 L559.32,206.49 L558.11,204.99 L556.9,203.49 L555.71,201.99 L554.52,200.5 L553.34,199 L552.18,197.5 L551.03,196 L549.9,194.5 L548.78,193 L547.67,191.51 L546.58,190.01 L545.51,188.51 L544.46,187.01 L543.43,185.51 L542.42,184.01 L541.43,182.52 L540.47,181.02 L539.53,179.52 L538.61,178.02 L537.72,176.52 L536.86,175.03 L536.03,173.53 L535.22,172.03 L534.45,170.53 L533.7,169.03 L532.94,167.53 L532.2,166.04 L531.53,164.54 L530.93,163.04 L530.4,161.54 L529.99,160.04 L529.63,158.54 L529.31,157.05 L529.06,155.55 L528.86,154.05 L528.73,152.55 L528.6,151.05 L528.48,149.56 L528.36,148.06 L528.25,146.56 L528.16,145.06 L528.07,143.56 L528,142.06 L527.94,140.57 L527.9,139.07 L527.87,137.57 L527.86,136.07Z" fill="#FF0000" stroke="#000" stroke-width="1.85" stroke-linejoin="round"/>
<path d="M527.86,189.61V274.81M527.86,337.24V417.44" stroke="#000" stroke-width="1.85" fill="none"/>
<rect x="500.89" y="274.81" width="53.94" height="62.43" fill="#fff" stroke="#000" stroke-width="1.85"/>
<path d="M500.89,298.18H554.83" stroke="#000" stroke-width="3.5" fill="none"/>
<path d="M259.29,182.13V171.13H527.86V182.13" stroke="#1a1a1a" stroke-width="1.3" fill="none"/>
<text transform="translate(393.18,165.54) scale(1,1.06)" font-size="17.2" text-anchor="middle">***</text>
<path d="M98.15,113.3V627.7H689" stroke="#000" stroke-width="1.9" fill="none" stroke-linejoin="miter"/>
<path d="M92.95,123.39H98.15" stroke="#000" stroke-width="1.9"/>
<text transform="translate(88.55,130.39) scale(1,1.06)" font-size="19.4" text-anchor="end">4000</text>
<path d="M92.95,279.2H98.15" stroke="#000" stroke-width="1.9"/>
<text transform="translate(88.55,286.2) scale(1,1.06)" font-size="19.4" text-anchor="end">2000</text>
<path d="M92.95,435.02H98.15" stroke="#000" stroke-width="1.9"/>
<text transform="translate(88.55,442.02) scale(1,1.06)" font-size="19.4" text-anchor="end">0</text>
<path d="M92.95,590.84H98.15" stroke="#000" stroke-width="1.9"/>
<text transform="translate(88.55,597.84) scale(1,1.06)" font-size="19.4" text-anchor="end">−2000</text>
<path d="M259.29,627.7V632.7" stroke="#000" stroke-width="1.9"/>
<text transform="translate(259.29,650.8) scale(1,1.06)" font-size="19.4" text-anchor="middle">ICD low</text>
<path d="M527.86,627.7V632.7" stroke="#000" stroke-width="1.9"/>
<text transform="translate(527.86,650.8) scale(1,1.06)" font-size="19.4" text-anchor="middle">ICD high</text>
<text transform="translate(393.57,674) scale(1,1.06)" font-size="19.4" text-anchor="middle">Group</text>
<text transform="translate(26.3,371.1) rotate(-90) scale(1,1.06)" font-size="19.7" text-anchor="middle">ImmuneScore</text>
</g>
<text x="751.3" y="30.7" font-size="30.6" font-weight="bold">B</text>
<g transform="translate(-0.05,742.79) scale(1.0,0.93305)">
<text transform="translate(259.9,76) scale(1,1.06)" font-size="19.4">Group</text>
<rect x="324.6" y="55.9" width="26.2" height="26.6" fill="#0066FF" stroke="#000" stroke-width="1.7"/>
<text transform="translate(360.5,76) scale(1,1.06)" font-size="16.1">ICD low</text>
<rect x="428" y="55.9" width="26.2" height="26.6" fill="#FF0000" stroke="#000" stroke-width="1.7"/>
<text transform="translate(463.9,76) scale(1,1.06)" font-size="16.1">ICD high</text>
<path d="M259.29,135.69 L259.29,137.3 L259.28,138.91 L259.27,140.52 L259.25,142.13 L259.23,143.73 L259.21,145.34 L259.18,146.95 L259.16,148.56 L259.13,150.16 L259.09,151.77 L259.06,153.38 L259.02,154.99 L258.99,156.59 L258.95,158.2 L258.91,159.81 L258.88,161.42 L258.83,163.02 L258.79,164.63 L258.74,166.24 L258.68,167.85 L258.62,169.46 L258.56,171.06 L258.49,172.67 L258.42,174.28 L258.34,175.89 L258.25,177.49 L258.16,179.1 L258.06,180.71 L257.96,182.32 L257.85,183.92 L257.72,185.53 L257.57,187.14 L257.4,188.75 L257.23,190.35 L257.04,191.96 L256.86,193.57 L256.64,195.18 L256.42,196.78 L256.19,198.39 L255.96,200 L255.72,201.61 L255.47,203.22 L255.21,204.82 L254.91,206.43 L254.6,208.04 L254.27,209.65 L253.93,211.25 L253.57,212.86 L253.2,214.47 L252.81,216.08 L252.41,217.68 L251.98,219.29 L251.55,220.9 L251.09,222.51 L250.61,224.11 L250.1,225.72 L249.57,227.33 L249.02,228.94 L248.43,230.54 L247.81,232.15 L247.16,233.76 L246.47,235.37 L245.74,236.98 L244.97,238.58 L244.15,240.19 L243.29,241.8 L242.39,243.41 L241.43,245.01 L240.42,246.62 L239.36,248.23 L238.24,249.84 L237.06,251.44 L235.82,253.05 L234.52,254.66 L233.16,256.27 L231.74,257.87 L230.28,259.48 L228.78,261.09 L227.25,262.7 L225.71,264.31 L224.15,265.91 L222.6,267.52 L221.06,269.13 L219.54,270.74 L218.06,272.34 L216.61,273.95 L215.2,275.56 L213.86,277.17 L212.59,278.77 L211.38,280.38 L210.24,281.99 L209.15,283.6 L208.12,285.2 L207.14,286.81 L206.2,288.42 L205.29,290.03 L204.42,291.63 L203.57,293.24 L202.74,294.85 L201.92,296.46 L201.11,298.07 L200.3,299.67 L199.49,301.28 L198.67,302.89 L197.84,304.5 L196.98,306.1 L196.1,307.71 L195.19,309.32 L194.24,310.93 L193.25,312.53 L192.21,314.14 L191.12,315.75 L190,317.36 L188.83,318.96 L187.64,320.57 L186.43,322.18 L185.2,323.79 L183.97,325.4 L182.73,327 L181.49,328.61 L180.26,330.22 L179.05,331.83 L177.86,333.43 L176.7,335.04 L175.57,336.65 L174.48,338.26 L173.44,339.86 L172.43,341.47 L171.46,343.08 L170.54,344.69 L169.65,346.29 L168.81,347.9 L168,349.51 L167.24,351.12 L166.51,352.72 L165.83,354.33 L165.18,355.94 L164.58,357.55 L164.01,359.16 L163.48,360.76 L163,362.37 L162.55,363.98 L162.14,365.59 L161.77,367.19 L161.43,368.8 L161.14,370.41 L160.89,372.02 L160.67,373.62 L160.49,375.23 L160.35,376.84 L160.25,378.45 L160.19,380.05 L160.17,381.66 L160.18,383.27 L160.23,384.88 L160.32,386.49 L160.42,388.09 L160.55,389.7 L160.67,391.31 L160.78,392.92 L160.88,394.52 L160.94,396.13 L160.97,397.74 L160.94,399.35 L160.86,400.95 L160.7,402.56 L160.46,404.17 L160.13,405.78 L159.7,407.38 L159.15,408.99 L158.5,410.6 L157.75,412.21 L156.94,413.81 L156.08,415.42 L155.2,417.03 L154.31,418.64 L153.45,420.25 L152.62,421.85 L151.83,423.46 L151.07,425.07 L150.35,426.68 L149.66,428.28 L149.01,429.89 L148.38,431.5 L147.78,433.11 L147.21,434.71 L146.66,436.32 L146.14,437.93 L145.64,439.54 L145.16,441.14 L144.71,442.75 L144.26,444.36 L143.85,445.97 L143.46,447.58 L143.11,449.18 L142.81,450.79 L142.56,452.4 L142.37,454.01 L142.26,455.61 L142.23,457.22 L142.28,458.83 L142.43,460.44 L142.69,462.04 L143.06,463.65 L143.55,465.26 L144.17,466.87 L144.92,468.47 L145.83,470.08 L146.88,471.69 L148.07,473.3 L149.4,474.9 L150.85,476.51 L152.43,478.12 L154.13,479.73 L155.95,481.34 L157.87,482.94 L159.89,484.55 L162.01,486.16 L164.22,487.77 L166.51,489.37 L168.89,490.98 L171.33,492.59 L173.85,494.2 L176.42,495.8 L179.05,497.41 L181.72,499.02 L184.43,500.63 L187.16,502.23 L189.92,503.84 L192.68,505.45 L195.45,507.06 L198.22,508.67 L200.97,510.27 L203.7,511.88 L206.41,513.49 L209.08,515.1 L211.7,516.7 L214.27,518.31 L216.78,519.92 L219.22,521.53 L221.58,523.13 L223.86,524.74 L226.04,526.35 L228.13,527.96 L230.11,529.56 L231.98,531.17 L233.75,532.78 L235.43,534.39 L237.02,535.99 L238.52,537.6 L239.94,539.21 L241.29,540.82 L242.56,542.43 L243.76,544.03 L244.89,545.64 L245.97,547.25 L246.99,548.86 L247.96,550.46 L248.88,552.07 L249.75,553.68 L250.59,555.29 L251.38,556.89 L252.13,558.5 L252.84,560.11 L253.51,561.72 L254.14,563.32 L254.75,564.93 L255.34,566.54 L255.89,568.15 L256.4,569.76 L256.86,571.36 L257.19,572.97 L257.47,574.58 L257.72,576.19 L257.94,577.79 L258.13,579.4 L258.31,581.01 L258.46,582.62 L258.59,584.22 L258.7,585.83 L258.78,587.44 L258.86,589.05 L258.93,590.65 L259,592.26 L259.06,593.87 L259.12,595.48 L259.17,597.08 L259.22,598.69 L259.25,600.3 L259.27,601.91 L259.29,603.52 L259.29,604.59 L259.29,604.59 L259.29,603.52 L259.31,601.91 L259.33,600.3 L259.37,598.69 L259.41,597.08 L259.46,595.48 L259.52,593.87 L259.58,592.26 L259.65,590.65 L259.73,589.05 L259.8,587.44 L259.89,585.83 L259.99,584.22 L260.12,582.62 L260.27,581.01 L260.45,579.4 L260.65,577.79 L260.87,576.19 L261.11,574.58 L261.39,572.97 L261.72,571.36 L262.18,569.76 L262.69,568.15 L263.24,566.54 L263.84,564.93 L264.44,563.32 L265.07,561.72 L265.74,560.11 L266.45,558.5 L267.2,556.89 L267.99,555.29 L268.83,553.68 L269.7,552.07 L270.63,550.46 L271.59,548.86 L272.61,547.25 L273.69,545.64 L274.83,544.03 L276.03,542.43 L277.3,540.82 L278.64,539.21 L280.06,537.6 L281.56,535.99 L283.15,534.39 L284.83,532.78 L286.6,531.17 L288.48,529.56 L290.45,527.96 L292.54,526.35 L294.72,524.74 L297,523.13 L299.36,521.53 L301.8,519.92 L304.31,518.31 L306.88,516.7 L309.51,515.1 L312.17,513.49 L314.88,511.88 L317.61,510.27 L320.36,508.67 L323.13,507.06 L325.9,505.45 L328.66,503.84 L331.42,502.23 L334.15,500.63 L336.86,499.02 L339.53,497.41 L342.16,495.8 L344.73,494.2 L347.25,492.59 L349.69,490.98 L352.07,489.37 L354.36,487.77 L356.57,486.16 L358.69,484.55 L360.71,482.94 L362.63,481.34 L364.45,479.73 L366.15,478.12 L367.73,476.51 L369.19,474.9 L370.51,473.3 L371.7,471.69 L372.75,470.08 L373.66,468.47 L374.42,466.87 L375.04,465.26 L375.53,463.65 L375.89,462.04 L376.15,460.44 L376.3,458.83 L376.36,457.22 L376.32,455.61 L376.21,454.01 L376.02,452.4 L375.78,450.79 L375.47,449.18 L375.12,447.58 L374.74,445.97 L374.32,444.36 L373.88,442.75 L373.42,441.14 L372.94,439.54 L372.44,437.93 L371.92,436.32 L371.37,434.71 L370.8,433.11 L370.2,431.5 L369.58,429.89 L368.92,428.28 L368.23,426.68 L367.51,425.07 L366.75,423.46 L365.96,421.85 L365.14,420.25 L364.27,418.64 L363.39,417.03 L362.5,415.42 L361.65,413.81 L360.83,412.21 L360.09,410.6 L359.43,408.99 L358.88,407.38 L358.45,405.78 L358.12,404.17 L357.88,402.56 L357.72,400.95 L357.64,399.35 L357.61,397.74 L357.64,396.13 L357.7,394.52 L357.8,392.92 L357.91,391.31 L358.04,389.7 L358.16,388.09 L358.26,386.49 L358.35,384.88 L358.4,383.27 L358.41,381.66 L358.39,380.05 L358.33,378.45 L358.23,376.84 L358.09,375.23 L357.91,373.62 L357.69,372.02 L357.44,370.41 L357.15,368.8 L356.82,367.19 L356.44,365.59 L356.04,363.98 L355.59,362.37 L355.1,360.76 L354.57,359.16 L354,357.55 L353.4,355.94 L352.75,354.33 L352.07,352.72 L351.34,351.12 L350.58,349.51 L349.77,347.9 L348.93,346.29 L348.04,344.69 L347.12,343.08 L346.15,341.47 L345.14,339.86 L344.1,338.26 L343.01,336.65 L341.88,335.04 L340.72,333.43 L339.53,331.83 L338.32,330.22 L337.09,328.61 L335.85,327 L334.61,325.4 L333.38,323.79 L332.15,322.18 L330.94,320.57 L329.75,318.96 L328.59,317.36 L327.46,315.75 L326.37,314.14 L325.33,312.53 L324.34,310.93 L323.39,309.32 L322.48,307.71 L321.6,306.1 L320.74,304.5 L319.91,302.89 L319.09,301.28 L318.28,299.67 L317.47,298.07 L316.66,296.46 L315.84,294.85 L315.01,293.24 L314.16,291.63 L313.29,290.03 L312.38,288.42 L311.44,286.81 L310.46,285.2 L309.43,283.6 L308.34,281.99 L307.2,280.38 L306,278.77 L304.72,277.17 L303.38,275.56 L301.98,273.95 L300.53,272.34 L299.04,270.74 L297.52,269.13 L295.98,267.52 L294.43,265.91 L292.88,264.31 L291.33,262.7 L289.81,261.09 L288.3,259.48 L286.84,257.87 L285.42,256.27 L284.06,254.66 L282.76,253.05 L281.52,251.44 L280.34,249.84 L279.22,248.23 L278.16,246.62 L277.15,245.01 L276.19,243.41 L275.29,241.8 L274.43,240.19 L273.62,238.58 L272.84,236.98 L272.12,235.37 L271.42,233.76 L270.77,232.15 L270.15,230.54 L269.56,228.94 L269.01,227.33 L268.48,225.72 L267.97,224.11 L267.5,222.51 L267.04,220.9 L266.6,219.29 L266.18,217.68 L265.77,216.08 L265.38,214.47 L265.01,212.86 L264.65,211.25 L264.31,209.65 L263.98,208.04 L263.67,206.43 L263.37,204.82 L263.11,203.22 L262.86,201.61 L262.62,200 L262.39,198.39 L262.16,196.78 L261.94,195.18 L261.72,193.57 L261.54,191.96 L261.36,190.35 L261.18,188.75 L261.01,187.14 L260.86,185.53 L260.73,183.92 L260.62,182.32 L260.52,180.71 L260.42,179.1 L260.33,177.49 L260.24,175.89 L260.16,174.28 L260.09,172.67 L260.02,171.06 L259.96,169.46 L259.9,167.85 L259.84,166.24 L259.79,164.63 L259.75,163.02 L259.71,161.42 L259.67,159.81 L259.63,158.2 L259.59,156.59 L259.56,154.99 L259.52,153.38 L259.49,151.77 L259.46,150.16 L259.43,148.56 L259.4,146.95 L259.37,145.34 L259.35,143.73 L259.33,142.13 L259.32,140.52 L259.3,138.91 L259.3,137.3 L259.29,135.69Z" fill="#0066FF" stroke="#000" stroke-width="1.85" stroke-linejoin="round"/>
<path d="M259.29,198.29V353.48M259.29,463.87V542.43" stroke="#000" stroke-width="1.85" fill="none"/>
<rect x="232.49" y="353.48" width="53.6" height="110.39" fill="#fff" stroke="#000" stroke-width="1.85"/>
<path d="M232.49,411.78H286.09" stroke="#000" stroke-width="3.5" fill="none"/>
<path d="M527.86,160.13 L527.84,161.74 L527.79,163.35 L527.71,164.95 L527.61,166.56 L527.5,168.17 L527.37,169.78 L527.24,171.38 L527.1,172.99 L526.95,174.6 L526.76,176.21 L526.54,177.81 L526.29,179.42 L526,181.03 L525.67,182.64 L525.24,184.25 L524.67,185.85 L524.01,187.46 L523.24,189.07 L522.43,190.68 L521.58,192.28 L520.68,193.89 L519.73,195.5 L518.75,197.11 L517.72,198.71 L516.66,200.32 L515.56,201.93 L514.44,203.54 L513.29,205.14 L512.11,206.75 L510.92,208.36 L509.71,209.97 L508.48,211.57 L507.24,213.18 L506,214.79 L504.74,216.4 L503.48,218.01 L502.22,219.61 L500.96,221.22 L499.71,222.83 L498.46,224.44 L497.22,226.04 L495.99,227.65 L494.78,229.26 L493.58,230.87 L492.4,232.47 L491.24,234.08 L490.08,235.69 L488.92,237.3 L487.74,238.9 L486.55,240.51 L485.33,242.12 L484.07,243.73 L482.77,245.34 L481.42,246.94 L480,248.55 L478.52,250.16 L476.96,251.77 L475.32,253.37 L473.59,254.98 L471.75,256.59 L469.83,258.2 L467.83,259.8 L465.75,261.41 L463.59,263.02 L461.38,264.63 L459.11,266.23 L456.79,267.84 L454.43,269.45 L452.03,271.06 L449.6,272.66 L447.15,274.27 L444.68,275.88 L442.2,277.49 L439.73,279.1 L437.26,280.7 L434.8,282.31 L432.38,283.92 L429.99,285.53 L427.64,287.13 L425.36,288.74 L423.14,290.35 L421,291.96 L418.95,293.56 L416.99,295.17 L415.15,296.78 L413.42,298.39 L411.82,299.99 L410.36,301.6 L409.04,303.21 L407.86,304.82 L406.81,306.43 L405.87,308.03 L405.05,309.64 L404.32,311.25 L403.68,312.86 L403.13,314.46 L402.64,316.07 L402.21,317.68 L401.84,319.29 L401.51,320.89 L401.21,322.5 L400.93,324.11 L400.67,325.72 L400.41,327.32 L400.16,328.93 L399.91,330.54 L399.66,332.15 L399.41,333.75 L399.15,335.36 L398.89,336.97 L398.62,338.58 L398.33,340.19 L398.04,341.79 L397.72,343.4 L397.39,345.01 L397.04,346.62 L396.67,348.22 L396.27,349.83 L395.86,351.44 L395.44,353.05 L395.03,354.65 L394.63,356.26 L394.26,357.87 L393.92,359.48 L393.63,361.08 L393.39,362.69 L393.23,364.3 L393.13,365.91 L393.13,367.52 L393.22,369.12 L393.42,370.73 L393.73,372.34 L394.16,373.95 L394.7,375.55 L395.36,377.16 L396.12,378.77 L397,380.38 L397.99,381.98 L399.09,383.59 L400.31,385.2 L401.62,386.81 L403.05,388.41 L404.59,390.02 L406.23,391.63 L407.97,393.24 L409.83,394.84 L411.78,396.45 L413.84,398.06 L415.99,399.67 L418.21,401.28 L420.49,402.88 L422.83,404.49 L425.2,406.1 L427.6,407.71 L430.02,409.31 L432.44,410.92 L434.86,412.53 L437.25,414.14 L439.61,415.74 L441.92,417.35 L444.18,418.96 L446.36,420.57 L448.48,422.17 L450.53,423.78 L452.51,425.39 L454.43,427 L456.28,428.61 L458.07,430.21 L459.81,431.82 L461.49,433.43 L463.11,435.04 L464.68,436.64 L466.21,438.25 L467.68,439.86 L469.11,441.47 L470.49,443.07 L471.84,444.68 L473.15,446.29 L474.43,447.9 L475.68,449.5 L476.92,451.11 L478.15,452.72 L479.37,454.33 L480.59,455.93 L481.82,457.54 L483.06,459.15 L484.32,460.76 L485.6,462.37 L486.92,463.97 L488.26,465.58 L489.65,467.19 L491.08,468.8 L492.54,470.4 L494.03,472.01 L495.54,473.62 L497.06,475.23 L498.59,476.83 L500.13,478.44 L501.65,480.05 L503.17,481.66 L504.67,483.26 L506.14,484.87 L507.58,486.48 L508.98,488.09 L510.34,489.7 L511.65,491.3 L512.91,492.91 L514.12,494.52 L515.28,496.13 L516.39,497.73 L517.45,499.34 L518.46,500.95 L519.43,502.56 L520.34,504.16 L521.21,505.77 L522.03,507.38 L522.8,508.99 L523.57,510.59 L524.27,512.2 L524.89,513.81 L525.43,515.42 L525.82,517.02 L526.16,518.63 L526.45,520.24 L526.69,521.85 L526.88,523.46 L527.01,525.06 L527.11,526.67 L527.22,528.28 L527.32,529.89 L527.42,531.49 L527.51,533.1 L527.59,534.71 L527.66,536.32 L527.72,537.92 L527.78,539.53 L527.82,541.14 L527.84,542.75 L527.86,544.35 L527.86,545.21 L527.86,545.21 L527.86,544.35 L527.88,542.75 L527.9,541.14 L527.94,539.53 L527.99,537.92 L528.06,536.32 L528.13,534.71 L528.21,533.1 L528.3,531.49 L528.39,529.89 L528.5,528.28 L528.61,526.67 L528.71,525.06 L528.84,523.46 L529.03,521.85 L529.27,520.24 L529.56,518.63 L529.9,517.02 L530.29,515.42 L530.83,513.81 L531.45,512.2 L532.15,510.59 L532.91,508.99 L533.69,507.38 L534.51,505.77 L535.38,504.16 L536.29,502.56 L537.26,500.95 L538.27,499.34 L539.33,497.73 L540.44,496.13 L541.6,494.52 L542.81,492.91 L544.07,491.3 L545.38,489.7 L546.74,488.09 L548.14,486.48 L549.58,484.87 L551.05,483.26 L552.55,481.66 L554.06,480.05 L555.59,478.44 L557.12,476.83 L558.65,475.23 L560.18,473.62 L561.69,472.01 L563.18,470.4 L564.64,468.8 L566.07,467.19 L567.46,465.58 L568.8,463.97 L570.11,462.37 L571.4,460.76 L572.66,459.15 L573.9,457.54 L575.12,455.93 L576.35,454.33 L577.57,452.72 L578.8,451.11 L580.04,449.5 L581.29,447.9 L582.57,446.29 L583.88,444.68 L585.22,443.07 L586.61,441.47 L588.04,439.86 L589.51,438.25 L591.03,436.64 L592.61,435.04 L594.23,433.43 L595.91,431.82 L597.64,430.21 L599.44,428.61 L601.29,427 L603.21,425.39 L605.19,423.78 L607.24,422.17 L609.35,420.57 L611.54,418.96 L613.8,417.35 L616.11,415.74 L618.47,414.14 L620.86,412.53 L623.27,410.92 L625.7,409.31 L628.11,407.71 L630.52,406.1 L632.89,404.49 L635.23,402.88 L637.51,401.28 L639.73,399.67 L641.88,398.06 L643.93,396.45 L645.89,394.84 L647.74,393.24 L649.49,391.63 L651.13,390.02 L652.67,388.41 L654.09,386.81 L655.41,385.2 L656.62,383.59 L657.72,381.98 L658.71,380.38 L659.59,378.77 L660.36,377.16 L661.02,375.55 L661.56,373.95 L661.99,372.34 L662.3,370.73 L662.5,369.12 L662.59,367.52 L662.59,365.91 L662.49,364.3 L662.32,362.69 L662.09,361.08 L661.8,359.48 L661.46,357.87 L661.09,356.26 L660.69,354.65 L660.28,353.05 L659.86,351.44 L659.45,349.83 L659.05,348.22 L658.68,346.62 L658.32,345.01 L657.99,343.4 L657.68,341.79 L657.38,340.19 L657.1,338.58 L656.83,336.97 L656.57,335.36 L656.31,333.75 L656.06,332.15 L655.81,330.54 L655.56,328.93 L655.31,327.32 L655.05,325.72 L654.79,324.11 L654.51,322.5 L654.21,320.89 L653.88,319.29 L653.5,317.68 L653.08,316.07 L652.59,314.46 L652.04,312.86 L651.4,311.25 L650.67,309.64 L649.85,308.03 L648.91,306.43 L647.86,304.82 L646.68,303.21 L645.36,301.6 L643.9,299.99 L642.3,298.39 L640.57,296.78 L638.72,295.17 L636.77,293.56 L634.72,291.96 L632.58,290.35 L630.36,288.74 L628.07,287.13 L625.73,285.53 L623.34,283.92 L620.92,282.31 L618.46,280.7 L615.99,279.1 L613.51,277.49 L611.04,275.88 L608.57,274.27 L606.12,272.66 L603.69,271.06 L601.29,269.45 L598.93,267.84 L596.61,266.23 L594.34,264.63 L592.12,263.02 L589.97,261.41 L587.89,259.8 L585.89,258.2 L583.96,256.59 L582.13,254.98 L580.4,253.37 L578.75,251.77 L577.2,250.16 L575.71,248.55 L574.3,246.94 L572.95,245.34 L571.65,243.73 L570.39,242.12 L569.17,240.51 L567.97,238.9 L566.8,237.3 L565.64,235.69 L564.48,234.08 L563.31,232.47 L562.14,230.87 L560.94,229.26 L559.73,227.65 L558.5,226.04 L557.26,224.44 L556.01,222.83 L554.75,221.22 L553.5,219.61 L552.24,218.01 L550.98,216.4 L549.72,214.79 L548.47,213.18 L547.24,211.57 L546.01,209.97 L544.8,208.36 L543.6,206.75 L542.43,205.14 L541.28,203.54 L540.16,201.93 L539.06,200.32 L538,198.71 L536.97,197.11 L535.99,195.5 L535.04,193.89 L534.14,192.28 L533.29,190.68 L532.48,189.07 L531.71,187.46 L531.04,185.85 L530.48,184.25 L530.05,182.64 L529.72,181.03 L529.43,179.42 L529.18,177.81 L528.96,176.21 L528.77,174.6 L528.62,172.99 L528.48,171.38 L528.34,169.78 L528.22,168.17 L528.1,166.56 L528.01,164.95 L527.93,163.35 L527.88,161.74 L527.86,160.13Z" fill="#FF0000" stroke="#000" stroke-width="1.85" stroke-linejoin="round"/>
<path d="M527.86,228.83V304.28M527.86,392.49V476.83" stroke="#000" stroke-width="1.85" fill="none"/>
<rect x="501.06" y="304.28" width="53.6" height="88.21" fill="#fff" stroke="#000" stroke-width="1.85"/>
<path d="M501.06,350.69H554.66" stroke="#000" stroke-width="3.5" fill="none"/>
<path d="M259.29,191.71V180.71H527.86V191.71" stroke="#1a1a1a" stroke-width="1.3" fill="none"/>
<text transform="translate(393.18,175.14) scale(1,1.06)" font-size="17.2" text-anchor="middle">***</text>
<path d="M98.15,113.3V627.7H689" stroke="#000" stroke-width="1.9" fill="none" stroke-linejoin="miter"/>
<path d="M92.95,213.5H98.15" stroke="#000" stroke-width="1.9"/>
<text transform="translate(88.55,220.5) scale(1,1.06)" font-size="19.4" text-anchor="end">2000</text>
<path d="M92.95,362.91H98.15" stroke="#000" stroke-width="1.9"/>
<text transform="translate(88.55,369.91) scale(1,1.06)" font-size="19.4" text-anchor="end">0</text>
<path d="M92.95,512.31H98.15" stroke="#000" stroke-width="1.9"/>
<text transform="translate(88.55,519.31) scale(1,1.06)" font-size="19.4" text-anchor="end">−2000</text>
<path d="M259.29,627.7V632.7" stroke="#000" stroke-width="1.9"/>
<text transform="translate(259.29,650.8) scale(1,1.06)" font-size="19.4" text-anchor="middle">ICD low</text>
<path d="M527.86,627.7V632.7" stroke="#000" stroke-width="1.9"/>
<text transform="translate(527.86,650.8) scale(1,1.06)" font-size="19.4" text-anchor="middle">ICD high</text>
<text transform="translate(393.57,674) scale(1,1.06)" font-size="19.4" text-anchor="middle">Group</text>
<text transform="translate(26.3,371.1) rotate(-90) scale(1,1.06)" font-size="19.7" text-anchor="middle">StromalScore</text>
</g>
<text x="12.6" y="772.2" font-size="30.6" font-weight="bold">C</text>
<g transform="translate(783.48,742.05) scale(0.91207,0.93517)">
<text transform="translate(246.1,76) scale(1,1.06)" font-size="19.4">Group</text>
<rect x="310.8" y="55.9" width="26.2" height="26.6" fill="#0066FF" stroke="#000" stroke-width="1.7"/>
<text transform="translate(346.7,76) scale(1,1.06)" font-size="16.1">ICD low</text>
<rect x="414.2" y="55.9" width="26.2" height="26.6" fill="#FF0000" stroke="#000" stroke-width="1.7"/>
<text transform="translate(450.1,76) scale(1,1.06)" font-size="16.1">ICD high</text>
<path d="M239.2,135.96 L239.18,137.57 L239.13,139.17 L239.06,140.78 L238.95,142.38 L238.83,143.98 L238.68,145.59 L238.51,147.19 L238.32,148.8 L238.05,150.4 L237.6,152 L237.06,153.61 L236.51,155.21 L235.89,156.82 L235.26,158.42 L234.47,160.02 L233.48,161.63 L232.31,163.23 L230.95,164.84 L229.37,166.44 L227.57,168.04 L225.52,169.65 L223.2,171.25 L220.59,172.86 L217.67,174.46 L214.43,176.06 L210.84,177.67 L206.9,179.27 L202.64,180.88 L198.1,182.48 L193.3,184.08 L188.3,185.69 L183.12,187.29 L177.81,188.9 L172.39,190.5 L166.92,192.1 L161.42,193.71 L155.94,195.31 L150.5,196.92 L145.15,198.52 L139.93,200.12 L134.87,201.73 L130.01,203.33 L125.38,204.94 L121.03,206.54 L116.99,208.14 L113.3,209.75 L109.99,211.35 L107.1,212.96 L104.66,214.56 L102.66,216.16 L101.07,217.77 L99.89,219.37 L99.1,220.98 L98.69,222.58 L98.63,224.18 L98.92,225.79 L99.54,227.39 L100.48,229 L101.71,230.6 L103.21,232.2 L104.93,233.81 L106.83,235.41 L108.89,237.02 L111.05,238.62 L113.28,240.22 L115.55,241.83 L117.81,243.43 L120.02,245.04 L122.14,246.64 L124.15,248.24 L126.01,249.85 L127.74,251.45 L129.35,253.06 L130.87,254.66 L132.29,256.26 L133.65,257.87 L134.96,259.47 L136.22,261.08 L137.46,262.68 L138.7,264.28 L139.94,265.89 L141.2,267.49 L142.5,269.1 L143.82,270.7 L145.17,272.3 L146.55,273.91 L147.96,275.51 L149.39,277.12 L150.85,278.72 L152.34,280.32 L153.85,281.93 L155.39,283.53 L156.95,285.14 L158.54,286.74 L160.16,288.34 L161.8,289.95 L163.46,291.55 L165.13,293.16 L166.82,294.76 L168.51,296.36 L170.19,297.97 L171.86,299.57 L173.51,301.18 L175.14,302.78 L176.73,304.38 L178.27,305.99 L179.77,307.59 L181.21,309.2 L182.59,310.8 L183.9,312.4 L185.13,314.01 L186.28,315.61 L187.33,317.22 L188.28,318.82 L189.13,320.42 L189.86,322.03 L190.47,323.63 L190.96,325.23 L191.31,326.84 L191.55,328.44 L191.69,330.05 L191.76,331.65 L191.76,333.25 L191.72,334.86 L191.66,336.46 L191.59,338.07 L191.53,339.67 L191.5,341.27 L191.52,342.88 L191.61,344.48 L191.78,346.09 L192.05,347.69 L192.44,349.29 L192.96,350.9 L193.58,352.5 L194.32,354.11 L195.15,355.71 L196.07,357.31 L197.08,358.92 L198.16,360.52 L199.31,362.13 L200.52,363.73 L201.77,365.33 L203.07,366.94 L204.41,368.54 L205.77,370.15 L207.15,371.75 L208.55,373.35 L209.94,374.96 L211.34,376.56 L212.71,378.17 L214.07,379.77 L215.4,381.37 L216.7,382.98 L217.95,384.58 L219.14,386.19 L220.28,387.79 L221.35,389.39 L222.34,391 L223.25,392.6 L224.07,394.21 L224.79,395.81 L225.43,397.41 L225.98,399.02 L226.46,400.62 L226.87,402.23 L227.22,403.83 L227.51,405.43 L227.75,407.04 L227.94,408.64 L228.1,410.25 L228.22,411.85 L228.31,413.45 L228.39,415.06 L228.45,416.66 L228.5,418.27 L228.55,419.87 L228.6,421.47 L228.66,423.08 L228.73,424.68 L228.82,426.29 L228.91,427.89 L229.01,429.49 L229.12,431.1 L229.24,432.7 L229.36,434.31 L229.5,435.91 L229.64,437.51 L229.78,439.12 L229.94,440.72 L230.09,442.33 L230.25,443.93 L230.42,445.53 L230.59,447.14 L230.76,448.74 L230.93,450.35 L231.11,451.95 L231.29,453.55 L231.47,455.16 L231.65,456.76 L231.83,458.37 L232.01,459.97 L232.19,461.57 L232.37,463.18 L232.55,464.78 L232.72,466.39 L232.9,467.99 L233.08,469.59 L233.26,471.2 L233.43,472.8 L233.61,474.41 L233.78,476.01 L233.95,477.61 L234.13,479.22 L234.3,480.82 L234.47,482.43 L234.64,484.03 L234.79,485.63 L234.95,487.24 L235.11,488.84 L235.26,490.45 L235.41,492.05 L235.56,493.65 L235.71,495.26 L235.85,496.86 L236,498.47 L236.15,500.07 L236.29,501.67 L236.44,503.28 L236.58,504.88 L236.7,506.49 L236.83,508.09 L236.96,509.69 L237.09,511.3 L237.23,512.9 L237.37,514.51 L237.51,516.11 L237.65,517.71 L237.79,519.32 L237.92,520.92 L238.04,522.53 L238.15,524.13 L238.25,525.73 L238.33,527.34 L238.39,528.94 L238.46,530.55 L238.52,532.15 L238.59,533.75 L238.65,535.36 L238.71,536.96 L238.77,538.57 L238.82,540.17 L238.88,541.77 L238.92,543.38 L238.97,544.98 L239.01,546.59 L239.05,548.19 L239.09,549.79 L239.12,551.4 L239.14,553 L239.17,554.61 L239.18,556.21 L239.19,557.81 L239.2,559.42 L239.2,559.84 L239.2,559.84 L239.2,559.42 L239.2,557.81 L239.21,556.21 L239.23,554.61 L239.25,553 L239.27,551.4 L239.3,549.79 L239.34,548.19 L239.38,546.59 L239.42,544.98 L239.47,543.38 L239.52,541.77 L239.57,540.17 L239.63,538.57 L239.68,536.96 L239.74,535.36 L239.8,533.75 L239.87,532.15 L239.93,530.55 L240,528.94 L240.06,527.34 L240.14,525.73 L240.24,524.13 L240.35,522.53 L240.47,520.92 L240.61,519.32 L240.74,517.71 L240.88,516.11 L241.02,514.51 L241.17,512.9 L241.3,511.3 L241.44,509.69 L241.57,508.09 L241.69,506.49 L241.81,504.88 L241.96,503.28 L242.1,501.67 L242.25,500.07 L242.39,498.47 L242.54,496.86 L242.68,495.26 L242.83,493.65 L242.98,492.05 L243.13,490.45 L243.29,488.84 L243.44,487.24 L243.6,485.63 L243.76,484.03 L243.92,482.43 L244.09,480.82 L244.27,479.22 L244.44,477.61 L244.61,476.01 L244.79,474.41 L244.96,472.8 L245.14,471.2 L245.31,469.59 L245.49,467.99 L245.67,466.39 L245.85,464.78 L246.03,463.18 L246.2,461.57 L246.38,459.97 L246.56,458.37 L246.74,456.76 L246.92,455.16 L247.1,453.55 L247.28,451.95 L247.46,450.35 L247.63,448.74 L247.8,447.14 L247.97,445.53 L248.14,443.93 L248.3,442.33 L248.46,440.72 L248.61,439.12 L248.76,437.51 L248.89,435.91 L249.03,434.31 L249.15,432.7 L249.27,431.1 L249.38,429.49 L249.48,427.89 L249.58,426.29 L249.66,424.68 L249.73,423.08 L249.79,421.47 L249.84,419.87 L249.89,418.27 L249.94,416.66 L250,415.06 L250.08,413.45 L250.18,411.85 L250.3,410.25 L250.45,408.64 L250.65,407.04 L250.89,405.43 L251.18,403.83 L251.52,402.23 L251.93,400.62 L252.41,399.02 L252.97,397.41 L253.6,395.81 L254.33,394.21 L255.14,392.6 L256.05,391 L257.04,389.39 L258.11,387.79 L259.25,386.19 L260.45,384.58 L261.7,382.98 L262.99,381.37 L264.32,379.77 L265.68,378.17 L267.06,376.56 L268.45,374.96 L269.85,373.35 L271.24,371.75 L272.62,370.15 L273.98,368.54 L275.32,366.94 L276.62,365.33 L277.88,363.73 L279.08,362.13 L280.23,360.52 L281.31,358.92 L282.32,357.31 L283.24,355.71 L284.07,354.11 L284.81,352.5 L285.44,350.9 L285.95,349.29 L286.34,347.69 L286.61,346.09 L286.78,344.48 L286.87,342.88 L286.89,341.27 L286.86,339.67 L286.8,338.07 L286.74,336.46 L286.67,334.86 L286.63,333.25 L286.64,331.65 L286.7,330.05 L286.84,328.44 L287.08,326.84 L287.44,325.23 L287.92,323.63 L288.53,322.03 L289.26,320.42 L290.11,318.82 L291.06,317.22 L292.12,315.61 L293.26,314.01 L294.49,312.4 L295.8,310.8 L297.18,309.2 L298.62,307.59 L300.12,305.99 L301.67,304.38 L303.26,302.78 L304.88,301.18 L306.53,299.57 L308.2,297.97 L309.88,296.36 L311.57,294.76 L313.26,293.16 L314.94,291.55 L316.6,289.95 L318.24,288.34 L319.85,286.74 L321.44,285.14 L323,283.53 L324.54,281.93 L326.06,280.32 L327.54,278.72 L329,277.12 L330.44,275.51 L331.84,273.91 L333.22,272.3 L334.57,270.7 L335.89,269.1 L337.19,267.49 L338.45,265.89 L339.69,264.28 L340.93,262.68 L342.17,261.08 L343.44,259.47 L344.74,257.87 L346.1,256.26 L347.53,254.66 L349.04,253.06 L350.65,251.45 L352.38,249.85 L354.24,248.24 L356.25,246.64 L358.38,245.04 L360.59,243.43 L362.85,241.83 L365.11,240.22 L367.34,238.62 L369.5,237.02 L371.56,235.41 L373.47,233.81 L375.19,232.2 L376.68,230.6 L377.91,229 L378.85,227.39 L379.47,225.79 L379.76,224.18 L379.7,222.58 L379.29,220.98 L378.5,219.37 L377.32,217.77 L375.73,216.16 L373.73,214.56 L371.29,212.96 L368.4,211.35 L365.1,209.75 L361.41,208.14 L357.36,206.54 L353.01,204.94 L348.39,203.33 L343.52,201.73 L338.46,200.12 L333.24,198.52 L327.89,196.92 L322.46,195.31 L316.97,193.71 L311.47,192.1 L306,190.5 L300.59,188.9 L295.27,187.29 L290.09,185.69 L285.09,184.08 L280.3,182.48 L275.75,180.88 L271.49,179.27 L267.55,177.67 L263.97,176.06 L260.72,174.46 L257.81,172.86 L255.2,171.25 L252.88,169.65 L250.82,168.04 L249.02,166.44 L247.44,164.84 L246.08,163.23 L244.92,161.63 L243.92,160.02 L243.14,158.42 L242.5,156.82 L241.88,155.21 L241.34,153.61 L240.8,152 L240.34,150.4 L240.07,148.8 L239.88,147.19 L239.71,145.59 L239.57,143.98 L239.44,142.38 L239.34,140.78 L239.26,139.17 L239.21,137.57 L239.2,135.96Z" fill="#0066FF" stroke="#000" stroke-width="1.85" stroke-linejoin="round"/>
<path d="M239.2,190.71V222.47M239.2,306.95V433.13" stroke="#000" stroke-width="1.85" fill="none"/>
<rect x="211.02" y="222.47" width="56.36" height="84.48" fill="#fff" stroke="#000" stroke-width="1.85"/>
<path d="M211.02,257.65H267.37" stroke="#000" stroke-width="3.5" fill="none"/>
<circle cx="239.2" cy="444.14" r="3.5"/>
<circle cx="239.2" cy="449.49" r="3.5"/>
<circle cx="239.2" cy="465.64" r="3.5"/>
<circle cx="239.2" cy="481.57" r="3.5"/>
<circle cx="239.2" cy="504.88" r="3.5"/>
<path d="M520.32,163.23 L520.32,164.84 L520.3,166.44 L520.28,168.04 L520.25,169.65 L520.2,171.25 L520.15,172.86 L520.1,174.46 L520.03,176.06 L519.96,177.67 L519.88,179.27 L519.8,180.88 L519.72,182.48 L519.6,184.08 L519.43,185.69 L519.22,187.29 L518.95,188.9 L518.64,190.5 L518.29,192.1 L517.89,193.71 L517.37,195.31 L516.71,196.92 L515.96,198.52 L515.16,200.12 L514.4,201.73 L513.62,203.33 L512.8,204.94 L511.95,206.54 L511.05,208.14 L510.12,209.75 L509.15,211.35 L508.15,212.96 L507.11,214.56 L506.03,216.16 L504.92,217.77 L503.77,219.37 L502.59,220.98 L501.38,222.58 L500.12,224.18 L498.84,225.79 L497.52,227.39 L496.17,229 L494.78,230.6 L493.37,232.2 L491.94,233.81 L490.5,235.41 L489.07,237.02 L487.64,238.62 L486.23,240.22 L484.85,241.83 L483.5,243.43 L482.21,245.04 L480.96,246.64 L479.78,248.24 L478.68,249.85 L477.65,251.45 L476.72,253.06 L475.88,254.66 L475.12,256.26 L474.44,257.87 L473.81,259.47 L473.23,261.08 L472.68,262.68 L472.16,264.28 L471.65,265.89 L471.13,267.49 L470.6,269.1 L470.04,270.7 L469.44,272.3 L468.78,273.91 L468.07,275.51 L467.27,277.12 L466.4,278.72 L465.45,280.32 L464.43,281.93 L463.34,283.53 L462.17,285.14 L460.95,286.74 L459.66,288.34 L458.32,289.95 L456.92,291.55 L455.47,293.16 L453.97,294.76 L452.42,296.36 L450.83,297.97 L449.2,299.57 L447.54,301.18 L445.84,302.78 L444.11,304.38 L442.36,305.99 L440.58,307.59 L438.78,309.2 L436.96,310.8 L435.13,312.4 L433.29,314.01 L431.46,315.61 L429.65,317.22 L427.88,318.82 L426.15,320.42 L424.48,322.03 L422.87,323.63 L421.36,325.23 L419.93,326.84 L418.62,328.44 L417.42,330.05 L416.36,331.65 L415.44,333.25 L414.68,334.86 L414.09,336.46 L413.66,338.07 L413.38,339.67 L413.24,341.27 L413.24,342.88 L413.37,344.48 L413.63,346.09 L413.99,347.69 L414.47,349.29 L415.04,350.9 L415.7,352.5 L416.45,354.11 L417.27,355.71 L418.16,357.31 L419.11,358.92 L420.12,360.52 L421.17,362.13 L422.26,363.73 L423.37,365.33 L424.51,366.94 L425.67,368.54 L426.83,370.15 L427.99,371.75 L429.15,373.35 L430.28,374.96 L431.4,376.56 L432.48,378.17 L433.54,379.77 L434.59,381.37 L435.62,382.98 L436.66,384.58 L437.72,386.19 L438.79,387.79 L439.89,389.39 L441.03,391 L442.22,392.6 L443.47,394.21 L444.78,395.81 L446.16,397.41 L447.63,399.02 L449.19,400.62 L450.85,402.23 L452.57,403.83 L454.33,405.43 L456.12,407.04 L457.91,408.64 L459.67,410.25 L461.41,411.85 L463.1,413.45 L464.76,415.06 L466.36,416.66 L467.91,418.27 L469.4,419.87 L470.81,421.47 L472.14,423.08 L473.39,424.68 L474.55,426.29 L475.61,427.89 L476.57,429.49 L477.41,431.1 L478.13,432.7 L478.74,434.31 L479.25,435.91 L479.67,437.51 L480.02,439.12 L480.31,440.72 L480.55,442.33 L480.76,443.93 L480.94,445.53 L481.11,447.14 L481.29,448.74 L481.48,450.35 L481.7,451.95 L481.96,453.55 L482.28,455.16 L482.66,456.76 L483.09,458.37 L483.59,459.97 L484.13,461.57 L484.72,463.18 L485.34,464.78 L486.01,466.39 L486.7,467.99 L487.41,469.59 L488.15,471.2 L488.9,472.8 L489.67,474.41 L490.43,476.01 L491.2,477.61 L491.97,479.22 L492.72,480.82 L493.47,482.43 L494.22,484.03 L494.95,485.63 L495.68,487.24 L496.4,488.84 L497.11,490.45 L497.82,492.05 L498.51,493.65 L499.2,495.26 L499.88,496.86 L500.56,498.47 L501.22,500.07 L501.88,501.67 L502.52,503.28 L503.16,504.88 L503.79,506.49 L504.41,508.09 L505.03,509.69 L505.63,511.3 L506.22,512.9 L506.81,514.51 L507.38,516.11 L507.95,517.71 L508.5,519.32 L509.05,520.92 L509.58,522.53 L510.11,524.13 L510.62,525.73 L511.13,527.34 L511.62,528.94 L512.11,530.55 L512.58,532.15 L513.04,533.75 L513.49,535.36 L513.93,536.96 L514.36,538.57 L514.78,540.17 L515.19,541.77 L515.61,543.38 L516.01,544.98 L516.39,546.59 L516.75,548.19 L517.09,549.79 L517.41,551.4 L517.71,553 L517.94,554.61 L518.15,556.21 L518.35,557.81 L518.53,559.42 L518.69,561.02 L518.85,562.62 L519,564.23 L519.14,565.83 L519.27,567.44 L519.38,569.04 L519.47,570.64 L519.55,572.25 L519.61,573.85 L519.67,575.46 L519.74,577.06 L519.79,578.66 L519.85,580.27 L519.91,581.87 L519.96,583.48 L520.01,585.08 L520.05,586.68 L520.1,588.29 L520.14,589.89 L520.17,591.5 L520.21,593.1 L520.24,594.7 L520.26,596.31 L520.28,597.91 L520.3,599.52 L520.31,601.12 L520.32,602.72 L520.32,604.33 L520.32,604.65 L520.32,604.65 L520.32,604.33 L520.33,602.72 L520.34,601.12 L520.35,599.52 L520.37,597.91 L520.39,596.31 L520.41,594.7 L520.44,593.1 L520.47,591.5 L520.51,589.89 L520.55,588.29 L520.59,586.68 L520.64,585.08 L520.69,583.48 L520.74,581.87 L520.8,580.27 L520.85,578.66 L520.91,577.06 L520.97,575.46 L521.04,573.85 L521.1,572.25 L521.17,570.64 L521.27,569.04 L521.38,567.44 L521.5,565.83 L521.64,564.23 L521.8,562.62 L521.95,561.02 L522.12,559.42 L522.3,557.81 L522.5,556.21 L522.71,554.61 L522.94,553 L523.23,551.4 L523.56,549.79 L523.9,548.19 L524.26,546.59 L524.64,544.98 L525.04,543.38 L525.46,541.77 L525.87,540.17 L526.28,538.57 L526.71,536.96 L527.15,535.36 L527.61,533.75 L528.07,532.15 L528.54,530.55 L529.03,528.94 L529.52,527.34 L530.03,525.73 L530.54,524.13 L531.07,522.53 L531.6,520.92 L532.15,519.32 L532.7,517.71 L533.27,516.11 L533.84,514.51 L534.43,512.9 L535.02,511.3 L535.62,509.69 L536.23,508.09 L536.85,506.49 L537.48,504.88 L538.12,503.28 L538.77,501.67 L539.43,500.07 L540.09,498.47 L540.76,496.86 L541.44,495.26 L542.13,493.65 L542.83,492.05 L543.54,490.45 L544.25,488.84 L544.97,487.24 L545.7,485.63 L546.43,484.03 L547.17,482.43 L547.92,480.82 L548.68,479.22 L549.44,477.61 L550.21,476.01 L550.98,474.41 L551.74,472.8 L552.5,471.2 L553.23,469.59 L553.95,467.99 L554.64,466.39 L555.3,464.78 L555.93,463.18 L556.52,461.57 L557.06,459.97 L557.55,458.37 L557.99,456.76 L558.37,455.16 L558.68,453.55 L558.95,451.95 L559.17,450.35 L559.36,448.74 L559.53,447.14 L559.71,445.53 L559.89,443.93 L560.09,442.33 L560.33,440.72 L560.62,439.12 L560.97,437.51 L561.4,435.91 L561.91,434.31 L562.52,432.7 L563.24,431.1 L564.08,429.49 L565.03,427.89 L566.09,426.29 L567.25,424.68 L568.5,423.08 L569.84,421.47 L571.25,419.87 L572.74,418.27 L574.28,416.66 L575.89,415.06 L577.54,413.45 L579.24,411.85 L580.98,410.25 L582.74,408.64 L584.52,407.04 L586.31,405.43 L588.08,403.83 L589.8,402.23 L591.45,400.62 L593.01,399.02 L594.48,397.41 L595.87,395.81 L597.18,394.21 L598.43,392.6 L599.61,391 L600.75,389.39 L601.86,387.79 L602.93,386.19 L603.98,384.58 L605.02,382.98 L606.06,381.37 L607.11,379.77 L608.17,378.17 L609.25,376.56 L610.36,374.96 L611.5,373.35 L612.65,371.75 L613.82,370.15 L614.98,368.54 L616.13,366.94 L617.27,365.33 L618.39,363.73 L619.48,362.13 L620.53,360.52 L621.53,358.92 L622.49,357.31 L623.38,355.71 L624.2,354.11 L624.95,352.5 L625.61,350.9 L626.18,349.29 L626.66,347.69 L627.02,346.09 L627.27,344.48 L627.41,342.88 L627.41,341.27 L627.27,339.67 L626.99,338.07 L626.56,336.46 L625.96,334.86 L625.2,333.25 L624.29,331.65 L623.23,330.05 L622.03,328.44 L620.72,326.84 L619.29,325.23 L617.77,323.63 L616.17,322.03 L614.5,320.42 L612.77,318.82 L610.99,317.22 L609.19,315.61 L607.36,314.01 L605.52,312.4 L603.69,310.8 L601.87,309.2 L600.07,307.59 L598.29,305.99 L596.54,304.38 L594.81,302.78 L593.11,301.18 L591.45,299.57 L589.82,297.97 L588.23,296.36 L586.68,294.76 L585.18,293.16 L583.73,291.55 L582.33,289.95 L580.98,288.34 L579.7,286.74 L578.47,285.14 L577.31,283.53 L576.22,281.93 L575.19,280.32 L574.25,278.72 L573.37,277.12 L572.58,275.51 L571.86,273.91 L571.21,272.3 L570.61,270.7 L570.05,269.1 L569.52,267.49 L569,265.89 L568.49,264.28 L567.96,262.68 L567.42,261.08 L566.84,259.47 L566.21,257.87 L565.53,256.26 L564.77,254.66 L563.93,253.06 L563,251.45 L561.97,249.85 L560.86,248.24 L559.68,246.64 L558.44,245.04 L557.14,243.43 L555.8,241.83 L554.42,240.22 L553.01,238.62 L551.58,237.02 L550.14,235.41 L548.71,233.81 L547.28,232.2 L545.87,230.6 L544.48,229 L543.13,227.39 L541.81,225.79 L540.52,224.18 L539.27,222.58 L538.05,220.98 L536.87,219.37 L535.73,217.77 L534.61,216.16 L533.54,214.56 L532.5,212.96 L531.49,211.35 L530.53,209.75 L529.59,208.14 L528.7,206.54 L527.84,204.94 L527.03,203.33 L526.25,201.73 L525.49,200.12 L524.69,198.52 L523.94,196.92 L523.27,195.31 L522.76,193.71 L522.36,192.1 L522,190.5 L521.69,188.9 L521.43,187.29 L521.21,185.69 L521.05,184.08 L520.93,182.48 L520.84,180.88 L520.76,179.27 L520.69,177.67 L520.62,176.06 L520.55,174.46 L520.49,172.86 L520.44,171.25 L520.4,169.65 L520.37,168.04 L520.34,166.44 L520.33,164.84 L520.32,163.23Z" fill="#FF0000" stroke="#000" stroke-width="1.85" stroke-linejoin="round"/>
<path d="M520.32,229.85V320.21M520.32,399.45V507.55" stroke="#000" stroke-width="1.85" fill="none"/>
<rect x="492.15" y="320.21" width="56.36" height="79.24" fill="#fff" stroke="#000" stroke-width="1.85"/>
<path d="M492.15,351.75H548.5" stroke="#000" stroke-width="3.5" fill="none"/>
<circle cx="520.32" cy="538.03" r="3.5"/>
<path d="M239.2,184.07V173.07H520.32V184.07" stroke="#1a1a1a" stroke-width="1.3" fill="none"/>
<text transform="translate(379.36,167.83) scale(1,1.06)" font-size="17.2" text-anchor="middle">***</text>
<path d="M70.52,113.3V627.7H689" stroke="#000" stroke-width="1.9" fill="none" stroke-linejoin="miter"/>
<path d="M65.32,235.41H70.52" stroke="#000" stroke-width="1.9"/>
<text transform="translate(60.92,242.41) scale(1,1.06)" font-size="19.4" text-anchor="end">0.9</text>
<path d="M65.32,372.29H70.52" stroke="#000" stroke-width="1.9"/>
<text transform="translate(60.92,379.29) scale(1,1.06)" font-size="19.4" text-anchor="end">0.6</text>
<path d="M65.32,509.16H70.52" stroke="#000" stroke-width="1.9"/>
<text transform="translate(60.92,516.16) scale(1,1.06)" font-size="19.4" text-anchor="end">0.3</text>
<path d="M239.2,627.7V632.7" stroke="#000" stroke-width="1.9"/>
<text transform="translate(239.2,650.8) scale(1,1.06)" font-size="19.4" text-anchor="middle">ICD low</text>
<path d="M520.32,627.7V632.7" stroke="#000" stroke-width="1.9"/>
<text transform="translate(520.32,650.8) scale(1,1.06)" font-size="19.4" text-anchor="middle">ICD high</text>
<text transform="translate(379.76,674) scale(1,1.06)" font-size="19.4" text-anchor="middle">Group</text>
<text transform="translate(26.3,371.1) rotate(-90) scale(1,1.06)" font-size="19.7" text-anchor="middle">TumorPurity</text>
</g>
<text x="751.3" y="771.6" font-size="30.6" font-weight="bold">D</text>
</svg></body></html>
